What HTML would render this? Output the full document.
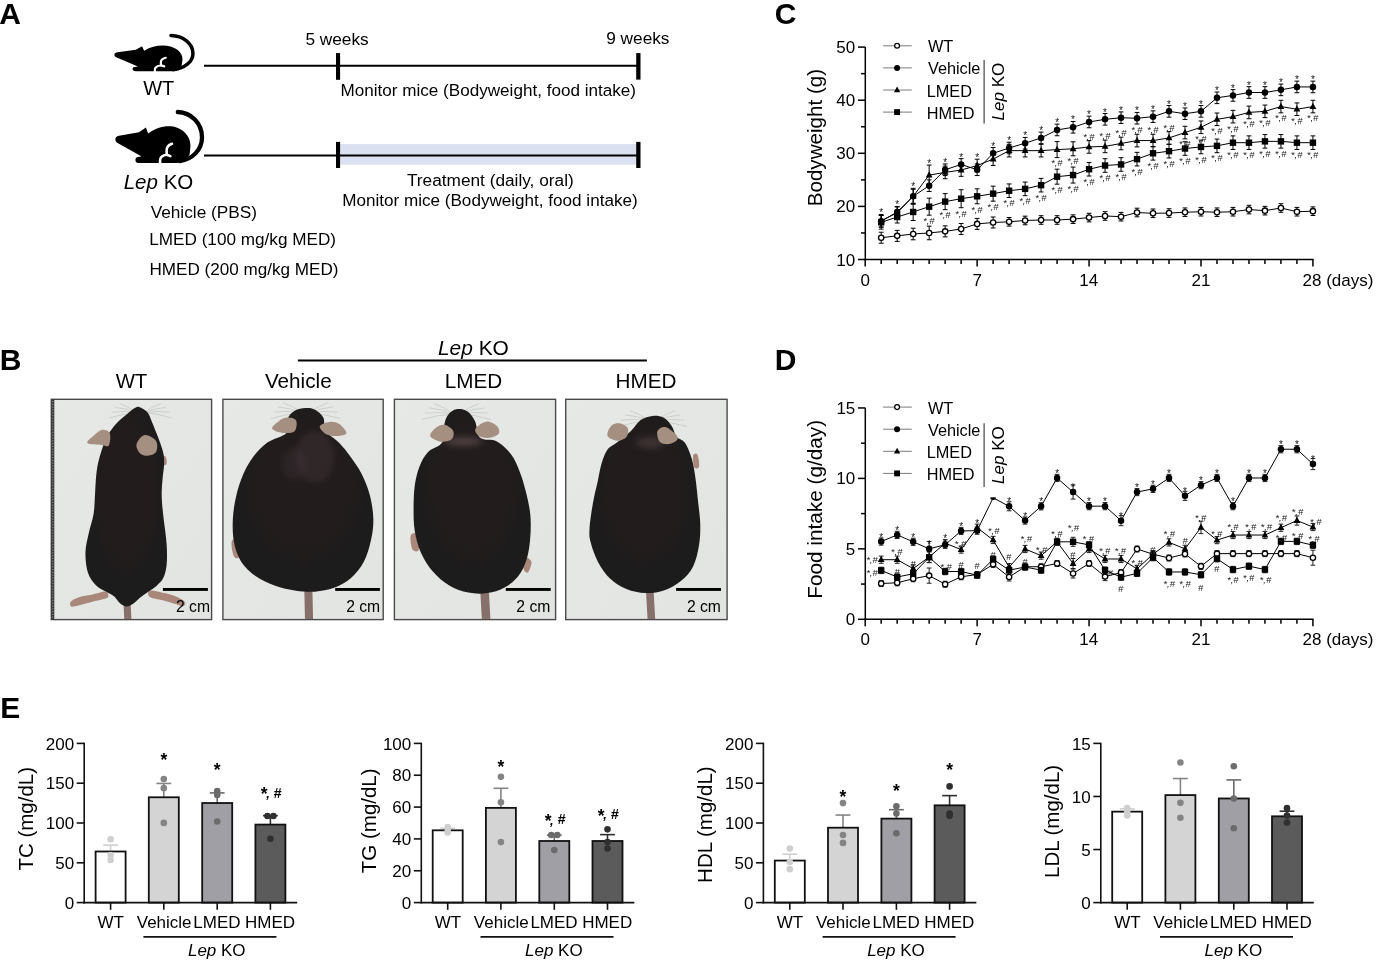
<!DOCTYPE html>
<html><head><meta charset="utf-8"><title>Figure</title>
<style>
html,body{margin:0;padding:0;background:#fff;width:1378px;height:966px;overflow:hidden}
svg{display:block;font-family:"Liberation Sans",sans-serif;-webkit-font-smoothing:antialiased;will-change:transform;transform:translateZ(0)}
</style></head><body>
<svg width="1378" height="966" viewBox="0 0 1378 966">
<rect width="1378" height="966" fill="#fff"/>
<text x="-0.72" y="23.90" style="font-size:30.00px;font-weight:bold;" fill="#000">A</text>
<text x="-0.28" y="370.40" style="font-size:30.00px;font-weight:bold;" fill="#000">B</text>
<text x="774.77" y="24.40" style="font-size:30.00px;font-weight:bold;" fill="#000">C</text>
<text x="774.72" y="370.30" style="font-size:30.00px;font-weight:bold;" fill="#000">D</text>
<text x="0.32" y="717.70" style="font-size:30.00px;font-weight:bold;" fill="#000">E</text>
<g transform="translate(114.4 34) scale(0.907 0.698) translate(-115.4 -109.7)">
<path d="M115.4 139.8 C115.2 137.2 116.6 136.2 118.9 135.7 L139 132.3 L145.9 127.4 L148.2 133.6 C155 128.6 161.5 126.3 168.8 126.3 C180.5 126.3 190.6 134.5 190.5 146 L189.6 154.5 C186 160.5 181 163.1 175 163.1 L139.2 163.1 C136.6 163.1 135.4 161.6 135.4 159.9 C135.4 157.9 137 156.7 139.5 156.7 L141.3 156.2 L118 143.3 C116.3 142.4 115.5 141.3 115.4 139.8 Z" fill="#000"/>
<path d="M177.8 112 C191 112.5 202 123 202 137.5 C202 150 192 159.5 180 161" fill="none" stroke="#000" stroke-width="3.50" stroke-linecap="round" vector-effect="non-scaling-stroke"/>
<path d="M172 143.8 C168.6 144.8 166.4 147.5 166.6 151.2 L166.8 154.7 L170.4 156.1" fill="none" stroke="#fff" stroke-width="2.20" stroke-linecap="round" stroke-linejoin="round" vector-effect="non-scaling-stroke"/>
<path d="M166.7 154.8 C162.6 155 159.6 157.6 160 161.2 L160.2 164" fill="none" stroke="#fff" stroke-width="2.20" stroke-linecap="round" stroke-linejoin="round" vector-effect="non-scaling-stroke"/>
</g>
<g transform="">
<path d="M115.4 139.8 C115.2 137.2 116.6 136.2 118.9 135.7 L139 132.3 L145.9 127.4 L148.2 133.6 C155 128.6 161.5 126.3 168.8 126.3 C180.5 126.3 190.6 134.5 190.5 146 L189.6 154.5 C186 160.5 181 163.1 175 163.1 L139.2 163.1 C136.6 163.1 135.4 161.6 135.4 159.9 C135.4 157.9 137 156.7 139.5 156.7 L141.3 156.2 L118 143.3 C116.3 142.4 115.5 141.3 115.4 139.8 Z" fill="#000"/>
<path d="M177.8 112 C191 112.5 202 123 202 137.5 C202 150 192 159.5 180 161" fill="none" stroke="#000" stroke-width="4.30" stroke-linecap="round" vector-effect="non-scaling-stroke"/>
<path d="M172 143.8 C168.6 144.8 166.4 147.5 166.6 151.2 L166.8 154.7 L170.4 156.1" fill="none" stroke="#fff" stroke-width="2.60" stroke-linecap="round" stroke-linejoin="round" vector-effect="non-scaling-stroke"/>
<path d="M166.7 154.8 C162.6 155 159.6 157.6 160 161.2 L160.2 164" fill="none" stroke="#fff" stroke-width="2.60" stroke-linecap="round" stroke-linejoin="round" vector-effect="non-scaling-stroke"/>
</g>
<text x="143.14" y="95.00" style="font-size:20.00px;" fill="#000">WT</text>
<text x="123.72" y="189.00" style="font-size:20.50px" fill="#000"><tspan style="font-style:italic">Lep</tspan><tspan> KO</tspan></text>
<line x1="204.00" y1="65.80" x2="638.30" y2="65.80" stroke="#000" stroke-width="2.00"/>
<rect x="336.00" y="53.10" width="4.10" height="26.70" fill="#000" stroke="none" stroke-width="0.00"/>
<rect x="636.20" y="53.10" width="4.30" height="26.50" fill="#000" stroke="none" stroke-width="0.00"/>
<text x="305.41" y="44.50" style="font-size:17.25px;" fill="#000">5 weeks</text>
<text x="606.21" y="44.20" style="font-size:17.25px;" fill="#000">9 weeks</text>
<text x="340.50" y="95.80" style="font-size:17.10px;" fill="#000">Monitor mice (Bodyweight, food intake)</text>
<rect x="340.10" y="144.10" width="296.10" height="20.70" fill="#dbe1f0" stroke="none" stroke-width="0.00"/>
<line x1="204.00" y1="155.40" x2="638.30" y2="155.40" stroke="#000" stroke-width="2.00"/>
<rect x="336.00" y="141.90" width="4.10" height="26.10" fill="#000" stroke="none" stroke-width="0.00"/>
<rect x="636.20" y="141.90" width="4.30" height="26.10" fill="#000" stroke="none" stroke-width="0.00"/>
<text x="406.92" y="185.60" style="font-size:17.25px;" fill="#000">Treatment (daily, oral)</text>
<text x="342.20" y="206.10" style="font-size:17.10px;" fill="#000">Monitor mice (Bodyweight, food intake)</text>
<text x="150.63" y="217.90" style="font-size:17.25px;" fill="#000">Vehicle (PBS)</text>
<text x="149.29" y="245.30" style="font-size:17.15px;" fill="#000">LMED (100 mg/kg MED)</text>
<text x="149.50" y="275.00" style="font-size:17.10px;" fill="#000">HMED (200 mg/kg MED)</text>
<defs><linearGradient id="bg" x1="0" y1="0" x2="1" y2="1"><stop offset="0" stop-color="#e7e9e6"/><stop offset="1" stop-color="#e2e4e1"/></linearGradient><radialGradient id="fur" cx="0.5" cy="0.42" r="0.62"><stop offset="0" stop-color="#221d1d"/><stop offset="1" stop-color="#1e1a1a"/></radialGradient><filter id="soft" x="-10%" y="-10%" width="120%" height="120%"><feGaussianBlur stdDeviation="2.6"/></filter><filter id="soft2" x="-50%" y="-50%" width="200%" height="200%"><feGaussianBlur stdDeviation="14"/></filter></defs>
<rect x="51.30" y="399.30" width="160.30" height="220.30" fill="url(#bg)" stroke="#4a4a4a" stroke-width="1.40"/>
<rect x="222.90" y="399.30" width="160.30" height="220.30" fill="url(#bg)" stroke="#4a4a4a" stroke-width="1.40"/>
<rect x="394.40" y="399.30" width="161.20" height="220.30" fill="url(#bg)" stroke="#4a4a4a" stroke-width="1.40"/>
<rect x="565.70" y="399.30" width="161.40" height="220.30" fill="url(#bg)" stroke="#4a4a4a" stroke-width="1.40"/>
<g stroke="#8a8a8a" stroke-width="0.45" opacity="0.6" fill="none">
<path d="M137.5 413.0 Q128.7 406.3 119.8 403.6"/>
<path d="M137.5 413.0 Q126.3 408.2 115.2 407.4"/>
<path d="M137.5 413.0 Q124.5 410.5 111.5 412.1"/>
<path d="M137.5 413.0 Q123.2 413.5 108.9 418.0"/>
<path d="M143.5 413.0 Q152.3 406.3 161.2 403.6"/>
<path d="M143.5 413.0 Q154.7 408.2 165.8 407.4"/>
<path d="M143.5 413.0 Q156.5 410.5 169.5 412.1"/>
<path d="M143.5 413.0 Q157.8 413.5 172.1 418.0"/>
</g>
<g stroke="#8a8a8a" stroke-width="0.45" opacity="0.6" fill="none">
<path d="M302.5 413.0 Q292.8 405.8 283.1 402.7"/>
<path d="M302.5 413.0 Q290.2 407.9 278.0 406.9"/>
<path d="M302.5 413.0 Q288.2 410.5 273.9 412.0"/>
<path d="M302.5 413.0 Q286.8 413.8 271.1 418.5"/>
<path d="M308.5 413.0 Q318.2 405.8 327.9 402.7"/>
<path d="M308.5 413.0 Q320.8 407.9 333.0 406.9"/>
<path d="M308.5 413.0 Q322.8 410.5 337.1 412.0"/>
<path d="M308.5 413.0 Q324.2 413.8 339.9 418.5"/>
</g>
<g stroke="#8a8a8a" stroke-width="0.45" opacity="0.6" fill="none">
<path d="M453.5 414.0 Q443.8 406.8 434.1 403.7"/>
<path d="M453.5 414.0 Q441.2 408.9 429.0 407.9"/>
<path d="M453.5 414.0 Q439.2 411.5 424.9 413.0"/>
<path d="M453.5 414.0 Q437.8 414.8 422.1 419.5"/>
<path d="M459.5 414.0 Q469.2 406.8 478.9 403.7"/>
<path d="M459.5 414.0 Q471.8 408.9 484.0 407.9"/>
<path d="M459.5 414.0 Q473.8 411.5 488.1 413.0"/>
<path d="M459.5 414.0 Q475.2 414.8 490.9 419.5"/>
</g>
<g stroke="#8a8a8a" stroke-width="0.45" opacity="0.6" fill="none">
<path d="M649.5 421.0 Q639.8 413.8 630.1 410.7"/>
<path d="M649.5 421.0 Q637.2 415.9 625.0 414.9"/>
<path d="M649.5 421.0 Q635.2 418.5 620.9 420.0"/>
<path d="M649.5 421.0 Q633.8 421.8 618.1 426.5"/>
<path d="M655.5 421.0 Q665.2 413.8 674.9 410.7"/>
<path d="M655.5 421.0 Q667.8 415.9 680.0 414.9"/>
<path d="M655.5 421.0 Q669.8 418.5 684.1 420.0"/>
<path d="M655.5 421.0 Q671.2 421.8 686.9 426.5"/>
</g>
<clipPath id="cp1"><rect x="52.00" y="400.00" width="158.90" height="218.90"/></clipPath>
<g clip-path="url(#cp1)">
<g transform="translate(45.00 395.00) scale(0.23810)">
<path d="M255.0 826.0 C244.7 823.7 219.2 834.0 200.0 838.0 C180.8 842.0 155.3 845.0 140.0 850.0 C124.7 855.0 113.0 861.7 108.0 868.0 C103.0 874.3 104.7 885.3 110.0 888.0 C115.3 890.7 125.0 887.3 140.0 884.0 C155.0 880.7 179.7 873.3 200.0 868.0 C220.3 862.7 252.8 859.0 262.0 852.0 C271.2 845.0 265.3 828.3 255.0 826.0 Z" fill="#a9877a"/>
<path d="M440.0 822.0 C450.0 819.3 480.8 827.7 500.0 832.0 C519.2 836.3 540.3 841.7 555.0 848.0 C569.7 854.3 584.2 863.3 588.0 870.0 C591.8 876.7 584.7 886.7 578.0 888.0 C571.3 889.3 561.8 882.3 548.0 878.0 C534.2 873.7 513.0 867.0 495.0 862.0 C477.0 857.0 449.2 854.7 440.0 848.0 C430.8 841.3 430.0 824.7 440.0 822.0 Z" fill="#a9877a"/>
<path d="M345 880 L348 945" fill="none" stroke="#85706b" stroke-width="30.0" stroke-linecap="round"/>
<path d="M492.0 255.0 C494.3 250.0 505.0 256.2 508.0 262.0 C511.0 267.8 512.3 285.0 510.0 290.0 C507.7 295.0 497.0 297.8 494.0 292.0 C491.0 286.2 489.7 260.0 492.0 255.0 Z" fill="#a9877a"/>
<path d="M395.0 50.0 C404.7 52.3 421.2 62.0 430.0 72.0 C438.8 82.0 441.7 95.3 448.0 110.0 C454.3 124.7 461.8 144.2 468.0 160.0 C474.2 175.8 480.0 190.0 485.0 205.0 C490.0 220.0 495.5 235.0 498.0 250.0 C500.5 265.0 500.7 278.3 500.0 295.0 C499.3 311.7 495.7 329.2 494.0 350.0 C492.3 370.8 489.7 395.0 490.0 420.0 C490.3 445.0 493.3 473.3 496.0 500.0 C498.7 526.7 503.3 555.0 506.0 580.0 C508.7 605.0 511.3 626.7 512.0 650.0 C512.7 673.3 512.7 700.0 510.0 720.0 C507.3 740.0 502.7 756.7 496.0 770.0 C489.3 783.3 479.3 791.3 470.0 800.0 C460.7 808.7 451.7 813.7 440.0 822.0 C428.3 830.3 412.5 840.3 400.0 850.0 C387.5 859.7 375.0 873.7 365.0 880.0 C355.0 886.3 348.3 888.8 340.0 888.0 C331.7 887.2 323.3 882.2 315.0 875.0 C306.7 867.8 300.0 853.3 290.0 845.0 C280.0 836.7 267.5 832.5 255.0 825.0 C242.5 817.5 227.5 813.3 215.0 800.0 C202.5 786.7 187.5 768.3 180.0 745.0 C172.5 721.7 169.3 687.5 170.0 660.0 C170.7 632.5 178.3 606.7 184.0 580.0 C189.7 553.3 199.7 526.7 204.0 500.0 C208.3 473.3 208.3 445.0 210.0 420.0 C211.7 395.0 212.0 371.7 214.0 350.0 C216.0 328.3 218.0 309.7 222.0 290.0 C226.0 270.3 231.3 251.7 238.0 232.0 C244.7 212.3 251.7 190.7 262.0 172.0 C272.3 153.3 286.2 135.3 300.0 120.0 C313.8 104.7 333.0 90.3 345.0 80.0 C357.0 69.7 363.7 63.0 372.0 58.0 C380.3 53.0 385.3 47.7 395.0 50.0 Z" fill="url(#fur)" filter="url(#soft)"/>
<path d="M178.0 202.0 C172.5 195.3 194.7 179.3 205.0 170.0 C215.3 160.7 228.8 147.7 240.0 146.0 C251.2 144.3 267.3 149.0 272.0 160.0 C276.7 171.0 273.7 203.7 268.0 212.0 C262.3 220.3 253.0 211.7 238.0 210.0 C223.0 208.3 183.5 208.7 178.0 202.0 Z" fill="#a58f80"/>
<path d="M385.0 205.0 C388.8 193.0 404.5 170.2 418.0 168.0 C431.5 165.8 458.0 180.0 466.0 192.0 C474.0 204.0 472.8 229.5 466.0 240.0 C459.2 250.5 436.8 255.0 425.0 255.0 C413.2 255.0 401.7 248.3 395.0 240.0 C388.3 231.7 381.2 217.0 385.0 205.0 Z" fill="#a58f80"/>
</g></g>
<clipPath id="cp2"><rect x="223.60" y="400.00" width="158.90" height="218.90"/></clipPath>
<g clip-path="url(#cp2)">
<g transform="translate(215.00 395.00) scale(0.23810)">
<path d="M392 815 L395 945" fill="none" stroke="#85706b" stroke-width="34.0" stroke-linecap="round"/>
<path d="M70.0 615.0 C72.8 604.2 90.0 599.2 95.0 610.0 C100.0 620.8 102.8 669.2 100.0 680.0 C97.2 690.8 83.0 685.8 78.0 675.0 C73.0 664.2 67.2 625.8 70.0 615.0 Z" fill="#a9877a"/>
<path d="M380.0 55.0 C394.2 54.3 407.5 55.3 420.0 62.0 C432.5 68.7 447.5 80.3 455.0 95.0 C462.5 109.7 454.2 132.5 465.0 150.0 C475.8 167.5 502.5 181.7 520.0 200.0 C537.5 218.3 554.2 238.3 570.0 260.0 C585.8 281.7 601.7 303.3 615.0 330.0 C628.3 356.7 641.7 388.3 650.0 420.0 C658.3 451.7 664.2 488.3 665.0 520.0 C665.8 551.7 661.7 580.0 655.0 610.0 C648.3 640.0 639.2 673.3 625.0 700.0 C610.8 726.7 590.8 751.7 570.0 770.0 C549.2 788.3 525.0 800.7 500.0 810.0 C475.0 819.3 446.7 824.0 420.0 826.0 C393.3 828.0 368.3 826.3 340.0 822.0 C311.7 817.7 278.3 810.3 250.0 800.0 C221.7 789.7 193.3 776.7 170.0 760.0 C146.7 743.3 125.0 723.3 110.0 700.0 C95.0 676.7 85.8 650.0 80.0 620.0 C74.2 590.0 73.3 553.3 75.0 520.0 C76.7 486.7 82.5 451.7 90.0 420.0 C97.5 388.3 108.3 356.7 120.0 330.0 C131.7 303.3 143.3 281.7 160.0 260.0 C176.7 238.3 196.7 216.7 220.0 200.0 C243.3 183.3 285.8 176.7 300.0 160.0 C314.2 143.3 299.2 115.7 305.0 100.0 C310.8 84.3 322.5 73.5 335.0 66.0 C347.5 58.5 365.8 55.7 380.0 55.0 Z" fill="url(#fur)" filter="url(#soft)"/>
<ellipse cx="420.0" cy="260.0" rx="80.0" ry="110.0" fill="#6a5560" opacity="0.20" filter="url(#soft2)"/>
<ellipse cx="330.0" cy="290.0" rx="50.0" ry="70.0" fill="#5a4a52" opacity="0.18" filter="url(#soft2)"/>
<path d="M240.0 137.0 C242.2 130.0 258.0 117.0 268.0 110.0 C278.0 103.0 288.0 95.7 300.0 95.0 C312.0 94.3 334.0 96.8 340.0 106.0 C346.0 115.2 342.7 141.0 336.0 150.0 C329.3 159.0 313.5 159.7 300.0 160.0 C286.5 160.3 265.0 155.8 255.0 152.0 C245.0 148.2 237.8 144.0 240.0 137.0 Z" fill="#a58f80"/>
<path d="M440.0 132.0 C441.7 123.2 466.3 114.7 480.0 113.0 C493.7 111.3 510.0 114.2 522.0 122.0 C534.0 129.8 552.3 151.7 552.0 160.0 C551.7 168.3 533.7 171.0 520.0 172.0 C506.3 173.0 483.3 172.7 470.0 166.0 C456.7 159.3 438.3 140.8 440.0 132.0 Z" fill="#a58f80"/>
</g></g>
<clipPath id="cp3"><rect x="395.10" y="400.00" width="159.80" height="218.90"/></clipPath>
<g clip-path="url(#cp3)">
<g transform="translate(385.00 395.00) scale(0.23810)">
<path d="M418 820 L425 945" fill="none" stroke="#85706b" stroke-width="36.0" stroke-linecap="round"/>
<path d="M108.0 590.0 C111.3 579.5 129.3 575.0 135.0 585.0 C140.7 595.0 145.3 639.5 142.0 650.0 C138.7 660.5 120.7 658.0 115.0 648.0 C109.3 638.0 104.7 600.5 108.0 590.0 Z" fill="#a9877a"/>
<path d="M585.0 680.0 C590.5 675.0 612.5 689.2 615.0 700.0 C617.5 710.8 605.5 740.0 600.0 745.0 C594.5 750.0 584.5 740.8 582.0 730.0 C579.5 719.2 579.5 685.0 585.0 680.0 Z" fill="#a9877a"/>
<path d="M300.0 60.0 C312.8 58.0 332.0 59.7 345.0 68.0 C358.0 76.3 368.8 91.3 378.0 110.0 C387.2 128.7 384.7 165.8 400.0 180.0 C415.3 194.2 448.3 183.3 470.0 195.0 C491.7 206.7 514.2 229.2 530.0 250.0 C545.8 270.8 555.0 295.0 565.0 320.0 C575.0 345.0 582.5 370.0 590.0 400.0 C597.5 430.0 606.7 466.7 610.0 500.0 C613.3 533.3 612.5 568.3 610.0 600.0 C607.5 631.7 603.3 663.3 595.0 690.0 C586.7 716.7 575.8 740.0 560.0 760.0 C544.2 780.0 521.7 798.0 500.0 810.0 C478.3 822.0 455.0 828.7 430.0 832.0 C405.0 835.3 376.7 835.3 350.0 830.0 C323.3 824.7 295.0 815.0 270.0 800.0 C245.0 785.0 220.0 763.3 200.0 740.0 C180.0 716.7 162.5 688.3 150.0 660.0 C137.5 631.7 130.0 600.0 125.0 570.0 C120.0 540.0 120.0 511.7 120.0 480.0 C120.0 448.3 120.8 410.0 125.0 380.0 C129.2 350.0 135.8 323.3 145.0 300.0 C154.2 276.7 164.2 256.7 180.0 240.0 C195.8 223.3 228.3 220.0 240.0 200.0 C251.7 180.0 245.3 140.0 250.0 120.0 C254.7 100.0 259.7 90.0 268.0 80.0 C276.3 70.0 287.2 62.0 300.0 60.0 Z" fill="url(#fur)" filter="url(#soft)"/>
<ellipse cx="330.0" cy="195.0" rx="80.0" ry="18.0" fill="#8a7070" opacity="0.45" filter="url(#soft2)"/>
<path d="M190.0 172.0 C186.7 162.0 205.0 143.8 215.0 136.0 C225.0 128.2 238.2 122.7 250.0 125.0 C261.8 127.3 281.0 139.8 286.0 150.0 C291.0 160.2 288.5 178.3 280.0 186.0 C271.5 193.7 250.0 198.3 235.0 196.0 C220.0 193.7 193.3 182.0 190.0 172.0 Z" fill="#a58f80"/>
<path d="M380.0 142.0 C385.0 132.0 410.0 114.0 425.0 112.0 C440.0 110.0 461.2 121.7 470.0 130.0 C478.8 138.3 483.0 153.7 478.0 162.0 C473.0 170.3 453.8 178.3 440.0 180.0 C426.2 181.7 405.0 178.3 395.0 172.0 C385.0 165.7 375.0 152.0 380.0 142.0 Z" fill="#a58f80"/>
</g></g>
<clipPath id="cp4"><rect x="566.40" y="400.00" width="160.00" height="218.90"/></clipPath>
<g clip-path="url(#cp4)">
<g transform="translate(555.00 395.00) scale(0.23810)">
<path d="M398 820 L405 945" fill="none" stroke="#85706b" stroke-width="32.0" stroke-linecap="round"/>
<path d="M580.0 255.0 C582.2 245.8 593.8 242.5 598.0 250.0 C602.2 257.5 607.2 290.8 605.0 300.0 C602.8 309.2 589.2 312.5 585.0 305.0 C580.8 297.5 577.8 264.2 580.0 255.0 Z" fill="#a9877a"/>
<path d="M410.0 88.0 C425.8 86.3 441.7 88.0 455.0 95.0 C468.3 102.0 480.8 116.7 490.0 130.0 C499.2 143.3 500.8 163.3 510.0 175.0 C519.2 186.7 534.2 184.2 545.0 200.0 C555.8 215.8 567.5 245.0 575.0 270.0 C582.5 295.0 585.8 321.7 590.0 350.0 C594.2 378.3 596.7 408.3 600.0 440.0 C603.3 471.7 609.2 508.3 610.0 540.0 C610.8 571.7 610.0 600.0 605.0 630.0 C600.0 660.0 592.5 695.0 580.0 720.0 C567.5 745.0 550.0 763.3 530.0 780.0 C510.0 796.7 485.0 811.3 460.0 820.0 C435.0 828.7 406.7 832.8 380.0 832.0 C353.3 831.2 325.0 825.3 300.0 815.0 C275.0 804.7 250.0 789.2 230.0 770.0 C210.0 750.8 193.3 725.0 180.0 700.0 C166.7 675.0 155.8 643.3 150.0 620.0 C144.2 596.7 143.3 588.3 145.0 560.0 C146.7 531.7 154.2 483.3 160.0 450.0 C165.8 416.7 174.2 386.7 180.0 360.0 C185.8 333.3 188.3 311.7 195.0 290.0 C201.7 268.3 209.2 245.0 220.0 230.0 C230.8 215.0 243.3 213.3 260.0 200.0 C276.7 186.7 303.3 165.8 320.0 150.0 C336.7 134.2 345.0 115.3 360.0 105.0 C375.0 94.7 394.2 89.7 410.0 88.0 Z" fill="url(#fur)" filter="url(#soft)"/>
<ellipse cx="400.0" cy="200.0" rx="60.0" ry="25.0" fill="#5a4848" opacity="0.50" filter="url(#soft2)"/>
<path d="M220.0 162.0 C221.7 152.7 230.8 133.0 240.0 126.0 C249.2 119.0 264.0 117.7 275.0 120.0 C286.0 122.3 301.8 130.7 306.0 140.0 C310.2 149.3 306.8 167.3 300.0 176.0 C293.2 184.7 276.7 191.0 265.0 192.0 C253.3 193.0 237.5 187.0 230.0 182.0 C222.5 177.0 218.3 171.3 220.0 162.0 Z" fill="#a58f80"/>
<path d="M430.0 152.0 C433.7 141.7 450.0 132.7 462.0 134.0 C474.0 135.3 493.2 151.3 502.0 160.0 C510.8 168.7 518.7 178.3 515.0 186.0 C511.3 193.7 492.5 204.3 480.0 206.0 C467.5 207.7 448.3 205.0 440.0 196.0 C431.7 187.0 426.3 162.3 430.0 152.0 Z" fill="#a58f80"/>
</g></g>
<rect x="51.30" y="399.30" width="3.00" height="220.30" fill="#3a3a3a" stroke="none" stroke-width="0.00"/>
<line x1="52.8" y1="401" x2="52.8" y2="618" stroke="#9a9a9a" stroke-width="1" stroke-dasharray="1.2 1.6"/>
<rect x="162.90" y="588.00" width="45.00" height="2.90" fill="#000" stroke="none" stroke-width="0.00"/>
<text x="176.00" y="611.90" style="font-size:15.70px;" fill="#000">2 cm</text>
<rect x="335.20" y="588.00" width="44.70" height="2.90" fill="#000" stroke="none" stroke-width="0.00"/>
<text x="346.20" y="611.90" style="font-size:15.70px;" fill="#000">2 cm</text>
<rect x="505.80" y="588.00" width="44.90" height="2.90" fill="#000" stroke="none" stroke-width="0.00"/>
<text x="516.30" y="611.90" style="font-size:15.70px;" fill="#000">2 cm</text>
<rect x="676.10" y="588.00" width="44.90" height="2.90" fill="#000" stroke="none" stroke-width="0.00"/>
<text x="686.90" y="611.90" style="font-size:15.70px;" fill="#000">2 cm</text>
<text x="115.63" y="388.00" style="font-size:20.40px;" fill="#000">WT</text>
<text x="264.95" y="388.40" style="font-size:20.70px;" fill="#000">Vehicle</text>
<text x="444.79" y="388.40" style="font-size:20.70px;" fill="#000">LMED</text>
<text x="615.57" y="388.40" style="font-size:20.70px;" fill="#000">HMED</text>
<line x1="297.90" y1="360.50" x2="646.90" y2="360.50" stroke="#000" stroke-width="2.00"/>
<text x="437.97" y="355.40" style="font-size:20.90px" fill="#000"><tspan style="font-style:italic">Lep</tspan><tspan> KO</tspan></text>
<line x1="865.30" y1="47.10" x2="865.30" y2="260.20" stroke="#000" stroke-width="1.50"/>
<line x1="864.60" y1="259.50" x2="1313.62" y2="259.50" stroke="#000" stroke-width="1.50"/>
<line x1="858.00" y1="259.50" x2="865.30" y2="259.50" stroke="#000" stroke-width="1.50"/>
<line x1="858.00" y1="206.40" x2="865.30" y2="206.40" stroke="#000" stroke-width="1.50"/>
<line x1="858.00" y1="153.30" x2="865.30" y2="153.30" stroke="#000" stroke-width="1.50"/>
<line x1="858.00" y1="100.20" x2="865.30" y2="100.20" stroke="#000" stroke-width="1.50"/>
<line x1="858.00" y1="47.10" x2="865.30" y2="47.10" stroke="#000" stroke-width="1.50"/>
<line x1="861.00" y1="232.95" x2="865.30" y2="232.95" stroke="#000" stroke-width="1.50"/>
<line x1="861.00" y1="179.85" x2="865.30" y2="179.85" stroke="#000" stroke-width="1.50"/>
<line x1="861.00" y1="126.75" x2="865.30" y2="126.75" stroke="#000" stroke-width="1.50"/>
<line x1="861.00" y1="73.65" x2="865.30" y2="73.65" stroke="#000" stroke-width="1.50"/>
<line x1="865.20" y1="259.50" x2="865.20" y2="266.50" stroke="#000" stroke-width="1.50"/>
<line x1="881.19" y1="259.50" x2="881.19" y2="263.90" stroke="#000" stroke-width="1.50"/>
<line x1="897.18" y1="259.50" x2="897.18" y2="263.90" stroke="#000" stroke-width="1.50"/>
<line x1="913.17" y1="259.50" x2="913.17" y2="263.90" stroke="#000" stroke-width="1.50"/>
<line x1="929.16" y1="259.50" x2="929.16" y2="263.90" stroke="#000" stroke-width="1.50"/>
<line x1="945.15" y1="259.50" x2="945.15" y2="263.90" stroke="#000" stroke-width="1.50"/>
<line x1="961.14" y1="259.50" x2="961.14" y2="263.90" stroke="#000" stroke-width="1.50"/>
<line x1="977.13" y1="259.50" x2="977.13" y2="266.50" stroke="#000" stroke-width="1.50"/>
<line x1="993.12" y1="259.50" x2="993.12" y2="263.90" stroke="#000" stroke-width="1.50"/>
<line x1="1009.11" y1="259.50" x2="1009.11" y2="263.90" stroke="#000" stroke-width="1.50"/>
<line x1="1025.10" y1="259.50" x2="1025.10" y2="263.90" stroke="#000" stroke-width="1.50"/>
<line x1="1041.09" y1="259.50" x2="1041.09" y2="263.90" stroke="#000" stroke-width="1.50"/>
<line x1="1057.08" y1="259.50" x2="1057.08" y2="263.90" stroke="#000" stroke-width="1.50"/>
<line x1="1073.07" y1="259.50" x2="1073.07" y2="263.90" stroke="#000" stroke-width="1.50"/>
<line x1="1089.06" y1="259.50" x2="1089.06" y2="266.50" stroke="#000" stroke-width="1.50"/>
<line x1="1105.05" y1="259.50" x2="1105.05" y2="263.90" stroke="#000" stroke-width="1.50"/>
<line x1="1121.04" y1="259.50" x2="1121.04" y2="263.90" stroke="#000" stroke-width="1.50"/>
<line x1="1137.03" y1="259.50" x2="1137.03" y2="263.90" stroke="#000" stroke-width="1.50"/>
<line x1="1153.02" y1="259.50" x2="1153.02" y2="263.90" stroke="#000" stroke-width="1.50"/>
<line x1="1169.01" y1="259.50" x2="1169.01" y2="263.90" stroke="#000" stroke-width="1.50"/>
<line x1="1185.00" y1="259.50" x2="1185.00" y2="263.90" stroke="#000" stroke-width="1.50"/>
<line x1="1200.99" y1="259.50" x2="1200.99" y2="266.50" stroke="#000" stroke-width="1.50"/>
<line x1="1216.98" y1="259.50" x2="1216.98" y2="263.90" stroke="#000" stroke-width="1.50"/>
<line x1="1232.97" y1="259.50" x2="1232.97" y2="263.90" stroke="#000" stroke-width="1.50"/>
<line x1="1248.96" y1="259.50" x2="1248.96" y2="263.90" stroke="#000" stroke-width="1.50"/>
<line x1="1264.95" y1="259.50" x2="1264.95" y2="263.90" stroke="#000" stroke-width="1.50"/>
<line x1="1280.94" y1="259.50" x2="1280.94" y2="263.90" stroke="#000" stroke-width="1.50"/>
<line x1="1296.93" y1="259.50" x2="1296.93" y2="263.90" stroke="#000" stroke-width="1.50"/>
<line x1="1312.92" y1="259.50" x2="1312.92" y2="266.50" stroke="#000" stroke-width="1.50"/>
<text x="836.34" y="265.50" style="font-size:17.00px;" fill="#000">10</text>
<text x="836.34" y="212.40" style="font-size:17.00px;" fill="#000">20</text>
<text x="836.34" y="159.30" style="font-size:17.00px;" fill="#000">30</text>
<text x="836.34" y="106.20" style="font-size:17.00px;" fill="#000">40</text>
<text x="836.34" y="53.10" style="font-size:17.00px;" fill="#000">50</text>
<polyline points="881.19,237.73 897.18,235.87 913.17,234.01 929.16,232.95 945.15,231.36 961.14,228.97 977.13,223.92 993.12,222.49 1009.11,221.80 1025.10,220.47 1041.09,219.99 1057.08,219.99 1073.07,219.14 1089.06,217.55 1105.05,215.96 1121.04,216.70 1137.03,212.51 1153.02,213.30 1169.01,213.04 1185.00,212.24 1200.99,211.71 1216.98,212.24 1232.97,211.71 1248.96,209.59 1264.95,210.65 1280.94,207.99 1296.93,211.71 1312.92,211.18" fill="none" stroke="#000" stroke-width="1.00"/>
<line x1="881.19" y1="232.23" x2="881.19" y2="243.23" stroke="#000" stroke-width="1.00"/>
<line x1="878.79" y1="232.23" x2="883.59" y2="232.23" stroke="#000" stroke-width="1.00"/>
<line x1="878.79" y1="243.23" x2="883.59" y2="243.23" stroke="#000" stroke-width="1.00"/>
<line x1="897.18" y1="230.37" x2="897.18" y2="241.37" stroke="#000" stroke-width="1.00"/>
<line x1="894.78" y1="230.37" x2="899.58" y2="230.37" stroke="#000" stroke-width="1.00"/>
<line x1="894.78" y1="241.37" x2="899.58" y2="241.37" stroke="#000" stroke-width="1.00"/>
<line x1="913.17" y1="228.21" x2="913.17" y2="239.81" stroke="#000" stroke-width="1.00"/>
<line x1="910.77" y1="228.21" x2="915.57" y2="228.21" stroke="#000" stroke-width="1.00"/>
<line x1="910.77" y1="239.81" x2="915.57" y2="239.81" stroke="#000" stroke-width="1.00"/>
<line x1="929.16" y1="226.15" x2="929.16" y2="239.75" stroke="#000" stroke-width="1.00"/>
<line x1="926.76" y1="226.15" x2="931.56" y2="226.15" stroke="#000" stroke-width="1.00"/>
<line x1="926.76" y1="239.75" x2="931.56" y2="239.75" stroke="#000" stroke-width="1.00"/>
<line x1="945.15" y1="225.86" x2="945.15" y2="236.86" stroke="#000" stroke-width="1.00"/>
<line x1="942.75" y1="225.86" x2="947.55" y2="225.86" stroke="#000" stroke-width="1.00"/>
<line x1="942.75" y1="236.86" x2="947.55" y2="236.86" stroke="#000" stroke-width="1.00"/>
<line x1="961.14" y1="223.47" x2="961.14" y2="234.47" stroke="#000" stroke-width="1.00"/>
<line x1="958.74" y1="223.47" x2="963.54" y2="223.47" stroke="#000" stroke-width="1.00"/>
<line x1="958.74" y1="234.47" x2="963.54" y2="234.47" stroke="#000" stroke-width="1.00"/>
<line x1="977.13" y1="218.42" x2="977.13" y2="229.42" stroke="#000" stroke-width="1.00"/>
<line x1="974.73" y1="218.42" x2="979.53" y2="218.42" stroke="#000" stroke-width="1.00"/>
<line x1="974.73" y1="229.42" x2="979.53" y2="229.42" stroke="#000" stroke-width="1.00"/>
<line x1="993.12" y1="216.99" x2="993.12" y2="227.99" stroke="#000" stroke-width="1.00"/>
<line x1="990.72" y1="216.99" x2="995.52" y2="216.99" stroke="#000" stroke-width="1.00"/>
<line x1="990.72" y1="227.99" x2="995.52" y2="227.99" stroke="#000" stroke-width="1.00"/>
<line x1="1009.11" y1="217.50" x2="1009.11" y2="226.10" stroke="#000" stroke-width="1.00"/>
<line x1="1006.71" y1="217.50" x2="1011.51" y2="217.50" stroke="#000" stroke-width="1.00"/>
<line x1="1006.71" y1="226.10" x2="1011.51" y2="226.10" stroke="#000" stroke-width="1.00"/>
<line x1="1025.10" y1="216.17" x2="1025.10" y2="224.77" stroke="#000" stroke-width="1.00"/>
<line x1="1022.70" y1="216.17" x2="1027.50" y2="216.17" stroke="#000" stroke-width="1.00"/>
<line x1="1022.70" y1="224.77" x2="1027.50" y2="224.77" stroke="#000" stroke-width="1.00"/>
<line x1="1041.09" y1="215.69" x2="1041.09" y2="224.29" stroke="#000" stroke-width="1.00"/>
<line x1="1038.69" y1="215.69" x2="1043.49" y2="215.69" stroke="#000" stroke-width="1.00"/>
<line x1="1038.69" y1="224.29" x2="1043.49" y2="224.29" stroke="#000" stroke-width="1.00"/>
<line x1="1057.08" y1="215.69" x2="1057.08" y2="224.29" stroke="#000" stroke-width="1.00"/>
<line x1="1054.68" y1="215.69" x2="1059.48" y2="215.69" stroke="#000" stroke-width="1.00"/>
<line x1="1054.68" y1="224.29" x2="1059.48" y2="224.29" stroke="#000" stroke-width="1.00"/>
<line x1="1073.07" y1="214.84" x2="1073.07" y2="223.44" stroke="#000" stroke-width="1.00"/>
<line x1="1070.67" y1="214.84" x2="1075.47" y2="214.84" stroke="#000" stroke-width="1.00"/>
<line x1="1070.67" y1="223.44" x2="1075.47" y2="223.44" stroke="#000" stroke-width="1.00"/>
<line x1="1089.06" y1="213.25" x2="1089.06" y2="221.85" stroke="#000" stroke-width="1.00"/>
<line x1="1086.66" y1="213.25" x2="1091.46" y2="213.25" stroke="#000" stroke-width="1.00"/>
<line x1="1086.66" y1="221.85" x2="1091.46" y2="221.85" stroke="#000" stroke-width="1.00"/>
<line x1="1105.05" y1="211.66" x2="1105.05" y2="220.26" stroke="#000" stroke-width="1.00"/>
<line x1="1102.65" y1="211.66" x2="1107.45" y2="211.66" stroke="#000" stroke-width="1.00"/>
<line x1="1102.65" y1="220.26" x2="1107.45" y2="220.26" stroke="#000" stroke-width="1.00"/>
<line x1="1121.04" y1="212.40" x2="1121.04" y2="221.00" stroke="#000" stroke-width="1.00"/>
<line x1="1118.64" y1="212.40" x2="1123.44" y2="212.40" stroke="#000" stroke-width="1.00"/>
<line x1="1118.64" y1="221.00" x2="1123.44" y2="221.00" stroke="#000" stroke-width="1.00"/>
<line x1="1137.03" y1="208.21" x2="1137.03" y2="216.81" stroke="#000" stroke-width="1.00"/>
<line x1="1134.63" y1="208.21" x2="1139.43" y2="208.21" stroke="#000" stroke-width="1.00"/>
<line x1="1134.63" y1="216.81" x2="1139.43" y2="216.81" stroke="#000" stroke-width="1.00"/>
<line x1="1153.02" y1="209.00" x2="1153.02" y2="217.60" stroke="#000" stroke-width="1.00"/>
<line x1="1150.62" y1="209.00" x2="1155.42" y2="209.00" stroke="#000" stroke-width="1.00"/>
<line x1="1150.62" y1="217.60" x2="1155.42" y2="217.60" stroke="#000" stroke-width="1.00"/>
<line x1="1169.01" y1="208.74" x2="1169.01" y2="217.34" stroke="#000" stroke-width="1.00"/>
<line x1="1166.61" y1="208.74" x2="1171.41" y2="208.74" stroke="#000" stroke-width="1.00"/>
<line x1="1166.61" y1="217.34" x2="1171.41" y2="217.34" stroke="#000" stroke-width="1.00"/>
<line x1="1185.00" y1="207.94" x2="1185.00" y2="216.54" stroke="#000" stroke-width="1.00"/>
<line x1="1182.60" y1="207.94" x2="1187.40" y2="207.94" stroke="#000" stroke-width="1.00"/>
<line x1="1182.60" y1="216.54" x2="1187.40" y2="216.54" stroke="#000" stroke-width="1.00"/>
<line x1="1200.99" y1="207.41" x2="1200.99" y2="216.01" stroke="#000" stroke-width="1.00"/>
<line x1="1198.59" y1="207.41" x2="1203.39" y2="207.41" stroke="#000" stroke-width="1.00"/>
<line x1="1198.59" y1="216.01" x2="1203.39" y2="216.01" stroke="#000" stroke-width="1.00"/>
<line x1="1216.98" y1="207.94" x2="1216.98" y2="216.54" stroke="#000" stroke-width="1.00"/>
<line x1="1214.58" y1="207.94" x2="1219.38" y2="207.94" stroke="#000" stroke-width="1.00"/>
<line x1="1214.58" y1="216.54" x2="1219.38" y2="216.54" stroke="#000" stroke-width="1.00"/>
<line x1="1232.97" y1="207.41" x2="1232.97" y2="216.01" stroke="#000" stroke-width="1.00"/>
<line x1="1230.57" y1="207.41" x2="1235.37" y2="207.41" stroke="#000" stroke-width="1.00"/>
<line x1="1230.57" y1="216.01" x2="1235.37" y2="216.01" stroke="#000" stroke-width="1.00"/>
<line x1="1248.96" y1="205.29" x2="1248.96" y2="213.89" stroke="#000" stroke-width="1.00"/>
<line x1="1246.56" y1="205.29" x2="1251.36" y2="205.29" stroke="#000" stroke-width="1.00"/>
<line x1="1246.56" y1="213.89" x2="1251.36" y2="213.89" stroke="#000" stroke-width="1.00"/>
<line x1="1264.95" y1="206.35" x2="1264.95" y2="214.95" stroke="#000" stroke-width="1.00"/>
<line x1="1262.55" y1="206.35" x2="1267.35" y2="206.35" stroke="#000" stroke-width="1.00"/>
<line x1="1262.55" y1="214.95" x2="1267.35" y2="214.95" stroke="#000" stroke-width="1.00"/>
<line x1="1280.94" y1="203.69" x2="1280.94" y2="212.29" stroke="#000" stroke-width="1.00"/>
<line x1="1278.54" y1="203.69" x2="1283.34" y2="203.69" stroke="#000" stroke-width="1.00"/>
<line x1="1278.54" y1="212.29" x2="1283.34" y2="212.29" stroke="#000" stroke-width="1.00"/>
<line x1="1296.93" y1="207.41" x2="1296.93" y2="216.01" stroke="#000" stroke-width="1.00"/>
<line x1="1294.53" y1="207.41" x2="1299.33" y2="207.41" stroke="#000" stroke-width="1.00"/>
<line x1="1294.53" y1="216.01" x2="1299.33" y2="216.01" stroke="#000" stroke-width="1.00"/>
<line x1="1312.92" y1="206.88" x2="1312.92" y2="215.48" stroke="#000" stroke-width="1.00"/>
<line x1="1310.52" y1="206.88" x2="1315.32" y2="206.88" stroke="#000" stroke-width="1.00"/>
<line x1="1310.52" y1="215.48" x2="1315.32" y2="215.48" stroke="#000" stroke-width="1.00"/>
<polyline points="881.19,222.33 897.18,217.02 913.17,211.98 929.16,206.67 945.15,201.62 961.14,198.70 977.13,196.31 993.12,193.66 1009.11,190.74 1025.10,188.88 1041.09,185.16 1057.08,176.66 1073.07,175.07 1089.06,169.23 1105.05,165.51 1121.04,164.45 1137.03,159.14 1153.02,153.30 1169.01,151.18 1185.00,148.52 1200.99,146.93 1216.98,145.87 1232.97,142.68 1248.96,142.68 1264.95,141.35 1280.94,141.35 1296.93,142.68 1312.92,142.68" fill="none" stroke="#000" stroke-width="1.00"/>
<line x1="881.19" y1="215.53" x2="881.19" y2="229.13" stroke="#000" stroke-width="1.00"/>
<line x1="878.79" y1="215.53" x2="883.59" y2="215.53" stroke="#000" stroke-width="1.00"/>
<line x1="878.79" y1="229.13" x2="883.59" y2="229.13" stroke="#000" stroke-width="1.00"/>
<line x1="897.18" y1="211.02" x2="897.18" y2="223.02" stroke="#000" stroke-width="1.00"/>
<line x1="894.78" y1="211.02" x2="899.58" y2="211.02" stroke="#000" stroke-width="1.00"/>
<line x1="894.78" y1="223.02" x2="899.58" y2="223.02" stroke="#000" stroke-width="1.00"/>
<line x1="913.17" y1="203.48" x2="913.17" y2="220.48" stroke="#000" stroke-width="1.00"/>
<line x1="910.77" y1="203.48" x2="915.57" y2="203.48" stroke="#000" stroke-width="1.00"/>
<line x1="910.77" y1="220.48" x2="915.57" y2="220.48" stroke="#000" stroke-width="1.00"/>
<line x1="929.16" y1="198.17" x2="929.16" y2="215.17" stroke="#000" stroke-width="1.00"/>
<line x1="926.76" y1="198.17" x2="931.56" y2="198.17" stroke="#000" stroke-width="1.00"/>
<line x1="926.76" y1="215.17" x2="931.56" y2="215.17" stroke="#000" stroke-width="1.00"/>
<line x1="945.15" y1="193.62" x2="945.15" y2="209.62" stroke="#000" stroke-width="1.00"/>
<line x1="942.75" y1="193.62" x2="947.55" y2="193.62" stroke="#000" stroke-width="1.00"/>
<line x1="942.75" y1="209.62" x2="947.55" y2="209.62" stroke="#000" stroke-width="1.00"/>
<line x1="961.14" y1="189.70" x2="961.14" y2="207.70" stroke="#000" stroke-width="1.00"/>
<line x1="958.74" y1="189.70" x2="963.54" y2="189.70" stroke="#000" stroke-width="1.00"/>
<line x1="958.74" y1="207.70" x2="963.54" y2="207.70" stroke="#000" stroke-width="1.00"/>
<line x1="977.13" y1="188.81" x2="977.13" y2="203.81" stroke="#000" stroke-width="1.00"/>
<line x1="974.73" y1="188.81" x2="979.53" y2="188.81" stroke="#000" stroke-width="1.00"/>
<line x1="974.73" y1="203.81" x2="979.53" y2="203.81" stroke="#000" stroke-width="1.00"/>
<line x1="993.12" y1="186.16" x2="993.12" y2="201.16" stroke="#000" stroke-width="1.00"/>
<line x1="990.72" y1="186.16" x2="995.52" y2="186.16" stroke="#000" stroke-width="1.00"/>
<line x1="990.72" y1="201.16" x2="995.52" y2="201.16" stroke="#000" stroke-width="1.00"/>
<line x1="1009.11" y1="183.94" x2="1009.11" y2="197.54" stroke="#000" stroke-width="1.00"/>
<line x1="1006.71" y1="183.94" x2="1011.51" y2="183.94" stroke="#000" stroke-width="1.00"/>
<line x1="1006.71" y1="197.54" x2="1011.51" y2="197.54" stroke="#000" stroke-width="1.00"/>
<line x1="1025.10" y1="182.08" x2="1025.10" y2="195.68" stroke="#000" stroke-width="1.00"/>
<line x1="1022.70" y1="182.08" x2="1027.50" y2="182.08" stroke="#000" stroke-width="1.00"/>
<line x1="1022.70" y1="195.68" x2="1027.50" y2="195.68" stroke="#000" stroke-width="1.00"/>
<line x1="1041.09" y1="178.36" x2="1041.09" y2="191.96" stroke="#000" stroke-width="1.00"/>
<line x1="1038.69" y1="178.36" x2="1043.49" y2="178.36" stroke="#000" stroke-width="1.00"/>
<line x1="1038.69" y1="191.96" x2="1043.49" y2="191.96" stroke="#000" stroke-width="1.00"/>
<line x1="1057.08" y1="169.16" x2="1057.08" y2="184.16" stroke="#000" stroke-width="1.00"/>
<line x1="1054.68" y1="169.16" x2="1059.48" y2="169.16" stroke="#000" stroke-width="1.00"/>
<line x1="1054.68" y1="184.16" x2="1059.48" y2="184.16" stroke="#000" stroke-width="1.00"/>
<line x1="1073.07" y1="167.07" x2="1073.07" y2="183.07" stroke="#000" stroke-width="1.00"/>
<line x1="1070.67" y1="167.07" x2="1075.47" y2="167.07" stroke="#000" stroke-width="1.00"/>
<line x1="1070.67" y1="183.07" x2="1075.47" y2="183.07" stroke="#000" stroke-width="1.00"/>
<line x1="1089.06" y1="162.43" x2="1089.06" y2="176.03" stroke="#000" stroke-width="1.00"/>
<line x1="1086.66" y1="162.43" x2="1091.46" y2="162.43" stroke="#000" stroke-width="1.00"/>
<line x1="1086.66" y1="176.03" x2="1091.46" y2="176.03" stroke="#000" stroke-width="1.00"/>
<line x1="1105.05" y1="158.71" x2="1105.05" y2="172.31" stroke="#000" stroke-width="1.00"/>
<line x1="1102.65" y1="158.71" x2="1107.45" y2="158.71" stroke="#000" stroke-width="1.00"/>
<line x1="1102.65" y1="172.31" x2="1107.45" y2="172.31" stroke="#000" stroke-width="1.00"/>
<line x1="1121.04" y1="157.65" x2="1121.04" y2="171.25" stroke="#000" stroke-width="1.00"/>
<line x1="1118.64" y1="157.65" x2="1123.44" y2="157.65" stroke="#000" stroke-width="1.00"/>
<line x1="1118.64" y1="171.25" x2="1123.44" y2="171.25" stroke="#000" stroke-width="1.00"/>
<line x1="1137.03" y1="152.34" x2="1137.03" y2="165.94" stroke="#000" stroke-width="1.00"/>
<line x1="1134.63" y1="152.34" x2="1139.43" y2="152.34" stroke="#000" stroke-width="1.00"/>
<line x1="1134.63" y1="165.94" x2="1139.43" y2="165.94" stroke="#000" stroke-width="1.00"/>
<line x1="1153.02" y1="146.50" x2="1153.02" y2="160.10" stroke="#000" stroke-width="1.00"/>
<line x1="1150.62" y1="146.50" x2="1155.42" y2="146.50" stroke="#000" stroke-width="1.00"/>
<line x1="1150.62" y1="160.10" x2="1155.42" y2="160.10" stroke="#000" stroke-width="1.00"/>
<line x1="1169.01" y1="144.38" x2="1169.01" y2="157.98" stroke="#000" stroke-width="1.00"/>
<line x1="1166.61" y1="144.38" x2="1171.41" y2="144.38" stroke="#000" stroke-width="1.00"/>
<line x1="1166.61" y1="157.98" x2="1171.41" y2="157.98" stroke="#000" stroke-width="1.00"/>
<line x1="1185.00" y1="141.72" x2="1185.00" y2="155.32" stroke="#000" stroke-width="1.00"/>
<line x1="1182.60" y1="141.72" x2="1187.40" y2="141.72" stroke="#000" stroke-width="1.00"/>
<line x1="1182.60" y1="155.32" x2="1187.40" y2="155.32" stroke="#000" stroke-width="1.00"/>
<line x1="1200.99" y1="140.13" x2="1200.99" y2="153.73" stroke="#000" stroke-width="1.00"/>
<line x1="1198.59" y1="140.13" x2="1203.39" y2="140.13" stroke="#000" stroke-width="1.00"/>
<line x1="1198.59" y1="153.73" x2="1203.39" y2="153.73" stroke="#000" stroke-width="1.00"/>
<line x1="1216.98" y1="139.07" x2="1216.98" y2="152.67" stroke="#000" stroke-width="1.00"/>
<line x1="1214.58" y1="139.07" x2="1219.38" y2="139.07" stroke="#000" stroke-width="1.00"/>
<line x1="1214.58" y1="152.67" x2="1219.38" y2="152.67" stroke="#000" stroke-width="1.00"/>
<line x1="1232.97" y1="135.88" x2="1232.97" y2="149.48" stroke="#000" stroke-width="1.00"/>
<line x1="1230.57" y1="135.88" x2="1235.37" y2="135.88" stroke="#000" stroke-width="1.00"/>
<line x1="1230.57" y1="149.48" x2="1235.37" y2="149.48" stroke="#000" stroke-width="1.00"/>
<line x1="1248.96" y1="135.88" x2="1248.96" y2="149.48" stroke="#000" stroke-width="1.00"/>
<line x1="1246.56" y1="135.88" x2="1251.36" y2="135.88" stroke="#000" stroke-width="1.00"/>
<line x1="1246.56" y1="149.48" x2="1251.36" y2="149.48" stroke="#000" stroke-width="1.00"/>
<line x1="1264.95" y1="134.55" x2="1264.95" y2="148.15" stroke="#000" stroke-width="1.00"/>
<line x1="1262.55" y1="134.55" x2="1267.35" y2="134.55" stroke="#000" stroke-width="1.00"/>
<line x1="1262.55" y1="148.15" x2="1267.35" y2="148.15" stroke="#000" stroke-width="1.00"/>
<line x1="1280.94" y1="134.55" x2="1280.94" y2="148.15" stroke="#000" stroke-width="1.00"/>
<line x1="1278.54" y1="134.55" x2="1283.34" y2="134.55" stroke="#000" stroke-width="1.00"/>
<line x1="1278.54" y1="148.15" x2="1283.34" y2="148.15" stroke="#000" stroke-width="1.00"/>
<line x1="1296.93" y1="135.88" x2="1296.93" y2="149.48" stroke="#000" stroke-width="1.00"/>
<line x1="1294.53" y1="135.88" x2="1299.33" y2="135.88" stroke="#000" stroke-width="1.00"/>
<line x1="1294.53" y1="149.48" x2="1299.33" y2="149.48" stroke="#000" stroke-width="1.00"/>
<line x1="1312.92" y1="135.88" x2="1312.92" y2="149.48" stroke="#000" stroke-width="1.00"/>
<line x1="1310.52" y1="135.88" x2="1315.32" y2="135.88" stroke="#000" stroke-width="1.00"/>
<line x1="1310.52" y1="149.48" x2="1315.32" y2="149.48" stroke="#000" stroke-width="1.00"/>
<polyline points="881.19,220.74 897.18,212.77 913.17,196.31 929.16,175.07 945.15,172.42 961.14,170.03 977.13,165.51 993.12,159.14 1009.11,150.65 1025.10,150.65 1041.09,150.65 1057.08,149.58 1073.07,148.79 1089.06,146.93 1105.05,146.40 1121.04,143.48 1137.03,140.56 1153.02,140.56 1169.01,137.90 1185.00,132.59 1200.99,127.28 1216.98,119.32 1232.97,116.66 1248.96,112.41 1264.95,111.35 1280.94,106.57 1296.93,109.23 1312.92,106.57" fill="none" stroke="#000" stroke-width="1.00"/>
<line x1="881.19" y1="214.44" x2="881.19" y2="227.04" stroke="#000" stroke-width="1.00"/>
<line x1="878.79" y1="214.44" x2="883.59" y2="214.44" stroke="#000" stroke-width="1.00"/>
<line x1="878.79" y1="227.04" x2="883.59" y2="227.04" stroke="#000" stroke-width="1.00"/>
<line x1="897.18" y1="206.47" x2="897.18" y2="219.07" stroke="#000" stroke-width="1.00"/>
<line x1="894.78" y1="206.47" x2="899.58" y2="206.47" stroke="#000" stroke-width="1.00"/>
<line x1="894.78" y1="219.07" x2="899.58" y2="219.07" stroke="#000" stroke-width="1.00"/>
<line x1="913.17" y1="188.31" x2="913.17" y2="204.31" stroke="#000" stroke-width="1.00"/>
<line x1="910.77" y1="188.31" x2="915.57" y2="188.31" stroke="#000" stroke-width="1.00"/>
<line x1="910.77" y1="204.31" x2="915.57" y2="204.31" stroke="#000" stroke-width="1.00"/>
<line x1="929.16" y1="165.07" x2="929.16" y2="185.07" stroke="#000" stroke-width="1.00"/>
<line x1="926.76" y1="165.07" x2="931.56" y2="165.07" stroke="#000" stroke-width="1.00"/>
<line x1="926.76" y1="185.07" x2="931.56" y2="185.07" stroke="#000" stroke-width="1.00"/>
<line x1="945.15" y1="166.12" x2="945.15" y2="178.72" stroke="#000" stroke-width="1.00"/>
<line x1="942.75" y1="166.12" x2="947.55" y2="166.12" stroke="#000" stroke-width="1.00"/>
<line x1="942.75" y1="178.72" x2="947.55" y2="178.72" stroke="#000" stroke-width="1.00"/>
<line x1="961.14" y1="163.73" x2="961.14" y2="176.33" stroke="#000" stroke-width="1.00"/>
<line x1="958.74" y1="163.73" x2="963.54" y2="163.73" stroke="#000" stroke-width="1.00"/>
<line x1="958.74" y1="176.33" x2="963.54" y2="176.33" stroke="#000" stroke-width="1.00"/>
<line x1="977.13" y1="159.21" x2="977.13" y2="171.81" stroke="#000" stroke-width="1.00"/>
<line x1="974.73" y1="159.21" x2="979.53" y2="159.21" stroke="#000" stroke-width="1.00"/>
<line x1="974.73" y1="171.81" x2="979.53" y2="171.81" stroke="#000" stroke-width="1.00"/>
<line x1="993.12" y1="152.84" x2="993.12" y2="165.44" stroke="#000" stroke-width="1.00"/>
<line x1="990.72" y1="152.84" x2="995.52" y2="152.84" stroke="#000" stroke-width="1.00"/>
<line x1="990.72" y1="165.44" x2="995.52" y2="165.44" stroke="#000" stroke-width="1.00"/>
<line x1="1009.11" y1="144.34" x2="1009.11" y2="156.95" stroke="#000" stroke-width="1.00"/>
<line x1="1006.71" y1="144.34" x2="1011.51" y2="144.34" stroke="#000" stroke-width="1.00"/>
<line x1="1006.71" y1="156.95" x2="1011.51" y2="156.95" stroke="#000" stroke-width="1.00"/>
<line x1="1025.10" y1="144.34" x2="1025.10" y2="156.95" stroke="#000" stroke-width="1.00"/>
<line x1="1022.70" y1="144.34" x2="1027.50" y2="144.34" stroke="#000" stroke-width="1.00"/>
<line x1="1022.70" y1="156.95" x2="1027.50" y2="156.95" stroke="#000" stroke-width="1.00"/>
<line x1="1041.09" y1="144.34" x2="1041.09" y2="156.95" stroke="#000" stroke-width="1.00"/>
<line x1="1038.69" y1="144.34" x2="1043.49" y2="144.34" stroke="#000" stroke-width="1.00"/>
<line x1="1038.69" y1="156.95" x2="1043.49" y2="156.95" stroke="#000" stroke-width="1.00"/>
<line x1="1057.08" y1="141.58" x2="1057.08" y2="157.58" stroke="#000" stroke-width="1.00"/>
<line x1="1054.68" y1="141.58" x2="1059.48" y2="141.58" stroke="#000" stroke-width="1.00"/>
<line x1="1054.68" y1="157.58" x2="1059.48" y2="157.58" stroke="#000" stroke-width="1.00"/>
<line x1="1073.07" y1="141.79" x2="1073.07" y2="155.79" stroke="#000" stroke-width="1.00"/>
<line x1="1070.67" y1="141.79" x2="1075.47" y2="141.79" stroke="#000" stroke-width="1.00"/>
<line x1="1070.67" y1="155.79" x2="1075.47" y2="155.79" stroke="#000" stroke-width="1.00"/>
<line x1="1089.06" y1="140.63" x2="1089.06" y2="153.23" stroke="#000" stroke-width="1.00"/>
<line x1="1086.66" y1="140.63" x2="1091.46" y2="140.63" stroke="#000" stroke-width="1.00"/>
<line x1="1086.66" y1="153.23" x2="1091.46" y2="153.23" stroke="#000" stroke-width="1.00"/>
<line x1="1105.05" y1="140.10" x2="1105.05" y2="152.70" stroke="#000" stroke-width="1.00"/>
<line x1="1102.65" y1="140.10" x2="1107.45" y2="140.10" stroke="#000" stroke-width="1.00"/>
<line x1="1102.65" y1="152.70" x2="1107.45" y2="152.70" stroke="#000" stroke-width="1.00"/>
<line x1="1121.04" y1="137.18" x2="1121.04" y2="149.78" stroke="#000" stroke-width="1.00"/>
<line x1="1118.64" y1="137.18" x2="1123.44" y2="137.18" stroke="#000" stroke-width="1.00"/>
<line x1="1118.64" y1="149.78" x2="1123.44" y2="149.78" stroke="#000" stroke-width="1.00"/>
<line x1="1137.03" y1="134.26" x2="1137.03" y2="146.86" stroke="#000" stroke-width="1.00"/>
<line x1="1134.63" y1="134.26" x2="1139.43" y2="134.26" stroke="#000" stroke-width="1.00"/>
<line x1="1134.63" y1="146.86" x2="1139.43" y2="146.86" stroke="#000" stroke-width="1.00"/>
<line x1="1153.02" y1="134.26" x2="1153.02" y2="146.86" stroke="#000" stroke-width="1.00"/>
<line x1="1150.62" y1="134.26" x2="1155.42" y2="134.26" stroke="#000" stroke-width="1.00"/>
<line x1="1150.62" y1="146.86" x2="1155.42" y2="146.86" stroke="#000" stroke-width="1.00"/>
<line x1="1169.01" y1="131.60" x2="1169.01" y2="144.20" stroke="#000" stroke-width="1.00"/>
<line x1="1166.61" y1="131.60" x2="1171.41" y2="131.60" stroke="#000" stroke-width="1.00"/>
<line x1="1166.61" y1="144.20" x2="1171.41" y2="144.20" stroke="#000" stroke-width="1.00"/>
<line x1="1185.00" y1="126.29" x2="1185.00" y2="138.89" stroke="#000" stroke-width="1.00"/>
<line x1="1182.60" y1="126.29" x2="1187.40" y2="126.29" stroke="#000" stroke-width="1.00"/>
<line x1="1182.60" y1="138.89" x2="1187.40" y2="138.89" stroke="#000" stroke-width="1.00"/>
<line x1="1200.99" y1="120.98" x2="1200.99" y2="133.58" stroke="#000" stroke-width="1.00"/>
<line x1="1198.59" y1="120.98" x2="1203.39" y2="120.98" stroke="#000" stroke-width="1.00"/>
<line x1="1198.59" y1="133.58" x2="1203.39" y2="133.58" stroke="#000" stroke-width="1.00"/>
<line x1="1216.98" y1="113.02" x2="1216.98" y2="125.62" stroke="#000" stroke-width="1.00"/>
<line x1="1214.58" y1="113.02" x2="1219.38" y2="113.02" stroke="#000" stroke-width="1.00"/>
<line x1="1214.58" y1="125.62" x2="1219.38" y2="125.62" stroke="#000" stroke-width="1.00"/>
<line x1="1232.97" y1="110.36" x2="1232.97" y2="122.96" stroke="#000" stroke-width="1.00"/>
<line x1="1230.57" y1="110.36" x2="1235.37" y2="110.36" stroke="#000" stroke-width="1.00"/>
<line x1="1230.57" y1="122.96" x2="1235.37" y2="122.96" stroke="#000" stroke-width="1.00"/>
<line x1="1248.96" y1="106.11" x2="1248.96" y2="118.71" stroke="#000" stroke-width="1.00"/>
<line x1="1246.56" y1="106.11" x2="1251.36" y2="106.11" stroke="#000" stroke-width="1.00"/>
<line x1="1246.56" y1="118.71" x2="1251.36" y2="118.71" stroke="#000" stroke-width="1.00"/>
<line x1="1264.95" y1="105.05" x2="1264.95" y2="117.65" stroke="#000" stroke-width="1.00"/>
<line x1="1262.55" y1="105.05" x2="1267.35" y2="105.05" stroke="#000" stroke-width="1.00"/>
<line x1="1262.55" y1="117.65" x2="1267.35" y2="117.65" stroke="#000" stroke-width="1.00"/>
<line x1="1280.94" y1="100.27" x2="1280.94" y2="112.87" stroke="#000" stroke-width="1.00"/>
<line x1="1278.54" y1="100.27" x2="1283.34" y2="100.27" stroke="#000" stroke-width="1.00"/>
<line x1="1278.54" y1="112.87" x2="1283.34" y2="112.87" stroke="#000" stroke-width="1.00"/>
<line x1="1296.93" y1="102.93" x2="1296.93" y2="115.53" stroke="#000" stroke-width="1.00"/>
<line x1="1294.53" y1="102.93" x2="1299.33" y2="102.93" stroke="#000" stroke-width="1.00"/>
<line x1="1294.53" y1="115.53" x2="1299.33" y2="115.53" stroke="#000" stroke-width="1.00"/>
<line x1="1312.92" y1="100.27" x2="1312.92" y2="112.87" stroke="#000" stroke-width="1.00"/>
<line x1="1310.52" y1="100.27" x2="1315.32" y2="100.27" stroke="#000" stroke-width="1.00"/>
<line x1="1310.52" y1="112.87" x2="1315.32" y2="112.87" stroke="#000" stroke-width="1.00"/>
<polyline points="881.19,221.27 897.18,211.98 913.17,196.31 929.16,185.69 945.15,169.76 961.14,164.45 977.13,169.76 993.12,153.30 1009.11,147.99 1025.10,143.21 1041.09,137.90 1057.08,129.94 1073.07,127.28 1089.06,121.97 1105.05,119.32 1121.04,117.72 1137.03,118.25 1153.02,116.66 1169.01,111.35 1185.00,113.74 1200.99,111.35 1216.98,97.81 1232.97,95.42 1248.96,92.50 1264.95,92.50 1280.94,89.85 1296.93,86.93 1312.92,86.93" fill="none" stroke="#000" stroke-width="1.00"/>
<line x1="881.19" y1="215.47" x2="881.19" y2="227.07" stroke="#000" stroke-width="1.00"/>
<line x1="878.79" y1="215.47" x2="883.59" y2="215.47" stroke="#000" stroke-width="1.00"/>
<line x1="878.79" y1="227.07" x2="883.59" y2="227.07" stroke="#000" stroke-width="1.00"/>
<line x1="897.18" y1="206.98" x2="897.18" y2="216.98" stroke="#000" stroke-width="1.00"/>
<line x1="894.78" y1="206.98" x2="899.58" y2="206.98" stroke="#000" stroke-width="1.00"/>
<line x1="894.78" y1="216.98" x2="899.58" y2="216.98" stroke="#000" stroke-width="1.00"/>
<line x1="913.17" y1="189.31" x2="913.17" y2="203.31" stroke="#000" stroke-width="1.00"/>
<line x1="910.77" y1="189.31" x2="915.57" y2="189.31" stroke="#000" stroke-width="1.00"/>
<line x1="910.77" y1="203.31" x2="915.57" y2="203.31" stroke="#000" stroke-width="1.00"/>
<line x1="929.16" y1="179.89" x2="929.16" y2="191.49" stroke="#000" stroke-width="1.00"/>
<line x1="926.76" y1="179.89" x2="931.56" y2="179.89" stroke="#000" stroke-width="1.00"/>
<line x1="926.76" y1="191.49" x2="931.56" y2="191.49" stroke="#000" stroke-width="1.00"/>
<line x1="945.15" y1="163.96" x2="945.15" y2="175.56" stroke="#000" stroke-width="1.00"/>
<line x1="942.75" y1="163.96" x2="947.55" y2="163.96" stroke="#000" stroke-width="1.00"/>
<line x1="942.75" y1="175.56" x2="947.55" y2="175.56" stroke="#000" stroke-width="1.00"/>
<line x1="961.14" y1="158.65" x2="961.14" y2="170.25" stroke="#000" stroke-width="1.00"/>
<line x1="958.74" y1="158.65" x2="963.54" y2="158.65" stroke="#000" stroke-width="1.00"/>
<line x1="958.74" y1="170.25" x2="963.54" y2="170.25" stroke="#000" stroke-width="1.00"/>
<line x1="977.13" y1="163.96" x2="977.13" y2="175.56" stroke="#000" stroke-width="1.00"/>
<line x1="974.73" y1="163.96" x2="979.53" y2="163.96" stroke="#000" stroke-width="1.00"/>
<line x1="974.73" y1="175.56" x2="979.53" y2="175.56" stroke="#000" stroke-width="1.00"/>
<line x1="993.12" y1="147.50" x2="993.12" y2="159.10" stroke="#000" stroke-width="1.00"/>
<line x1="990.72" y1="147.50" x2="995.52" y2="147.50" stroke="#000" stroke-width="1.00"/>
<line x1="990.72" y1="159.10" x2="995.52" y2="159.10" stroke="#000" stroke-width="1.00"/>
<line x1="1009.11" y1="142.19" x2="1009.11" y2="153.79" stroke="#000" stroke-width="1.00"/>
<line x1="1006.71" y1="142.19" x2="1011.51" y2="142.19" stroke="#000" stroke-width="1.00"/>
<line x1="1006.71" y1="153.79" x2="1011.51" y2="153.79" stroke="#000" stroke-width="1.00"/>
<line x1="1025.10" y1="137.41" x2="1025.10" y2="149.01" stroke="#000" stroke-width="1.00"/>
<line x1="1022.70" y1="137.41" x2="1027.50" y2="137.41" stroke="#000" stroke-width="1.00"/>
<line x1="1022.70" y1="149.01" x2="1027.50" y2="149.01" stroke="#000" stroke-width="1.00"/>
<line x1="1041.09" y1="132.10" x2="1041.09" y2="143.70" stroke="#000" stroke-width="1.00"/>
<line x1="1038.69" y1="132.10" x2="1043.49" y2="132.10" stroke="#000" stroke-width="1.00"/>
<line x1="1038.69" y1="143.70" x2="1043.49" y2="143.70" stroke="#000" stroke-width="1.00"/>
<line x1="1057.08" y1="124.14" x2="1057.08" y2="135.74" stroke="#000" stroke-width="1.00"/>
<line x1="1054.68" y1="124.14" x2="1059.48" y2="124.14" stroke="#000" stroke-width="1.00"/>
<line x1="1054.68" y1="135.74" x2="1059.48" y2="135.74" stroke="#000" stroke-width="1.00"/>
<line x1="1073.07" y1="121.48" x2="1073.07" y2="133.08" stroke="#000" stroke-width="1.00"/>
<line x1="1070.67" y1="121.48" x2="1075.47" y2="121.48" stroke="#000" stroke-width="1.00"/>
<line x1="1070.67" y1="133.08" x2="1075.47" y2="133.08" stroke="#000" stroke-width="1.00"/>
<line x1="1089.06" y1="116.17" x2="1089.06" y2="127.77" stroke="#000" stroke-width="1.00"/>
<line x1="1086.66" y1="116.17" x2="1091.46" y2="116.17" stroke="#000" stroke-width="1.00"/>
<line x1="1086.66" y1="127.77" x2="1091.46" y2="127.77" stroke="#000" stroke-width="1.00"/>
<line x1="1105.05" y1="113.52" x2="1105.05" y2="125.12" stroke="#000" stroke-width="1.00"/>
<line x1="1102.65" y1="113.52" x2="1107.45" y2="113.52" stroke="#000" stroke-width="1.00"/>
<line x1="1102.65" y1="125.12" x2="1107.45" y2="125.12" stroke="#000" stroke-width="1.00"/>
<line x1="1121.04" y1="111.92" x2="1121.04" y2="123.52" stroke="#000" stroke-width="1.00"/>
<line x1="1118.64" y1="111.92" x2="1123.44" y2="111.92" stroke="#000" stroke-width="1.00"/>
<line x1="1118.64" y1="123.52" x2="1123.44" y2="123.52" stroke="#000" stroke-width="1.00"/>
<line x1="1137.03" y1="112.45" x2="1137.03" y2="124.05" stroke="#000" stroke-width="1.00"/>
<line x1="1134.63" y1="112.45" x2="1139.43" y2="112.45" stroke="#000" stroke-width="1.00"/>
<line x1="1134.63" y1="124.05" x2="1139.43" y2="124.05" stroke="#000" stroke-width="1.00"/>
<line x1="1153.02" y1="110.86" x2="1153.02" y2="122.46" stroke="#000" stroke-width="1.00"/>
<line x1="1150.62" y1="110.86" x2="1155.42" y2="110.86" stroke="#000" stroke-width="1.00"/>
<line x1="1150.62" y1="122.46" x2="1155.42" y2="122.46" stroke="#000" stroke-width="1.00"/>
<line x1="1169.01" y1="105.55" x2="1169.01" y2="117.15" stroke="#000" stroke-width="1.00"/>
<line x1="1166.61" y1="105.55" x2="1171.41" y2="105.55" stroke="#000" stroke-width="1.00"/>
<line x1="1166.61" y1="117.15" x2="1171.41" y2="117.15" stroke="#000" stroke-width="1.00"/>
<line x1="1185.00" y1="107.94" x2="1185.00" y2="119.54" stroke="#000" stroke-width="1.00"/>
<line x1="1182.60" y1="107.94" x2="1187.40" y2="107.94" stroke="#000" stroke-width="1.00"/>
<line x1="1182.60" y1="119.54" x2="1187.40" y2="119.54" stroke="#000" stroke-width="1.00"/>
<line x1="1200.99" y1="105.55" x2="1200.99" y2="117.15" stroke="#000" stroke-width="1.00"/>
<line x1="1198.59" y1="105.55" x2="1203.39" y2="105.55" stroke="#000" stroke-width="1.00"/>
<line x1="1198.59" y1="117.15" x2="1203.39" y2="117.15" stroke="#000" stroke-width="1.00"/>
<line x1="1216.98" y1="92.01" x2="1216.98" y2="103.61" stroke="#000" stroke-width="1.00"/>
<line x1="1214.58" y1="92.01" x2="1219.38" y2="92.01" stroke="#000" stroke-width="1.00"/>
<line x1="1214.58" y1="103.61" x2="1219.38" y2="103.61" stroke="#000" stroke-width="1.00"/>
<line x1="1232.97" y1="89.62" x2="1232.97" y2="101.22" stroke="#000" stroke-width="1.00"/>
<line x1="1230.57" y1="89.62" x2="1235.37" y2="89.62" stroke="#000" stroke-width="1.00"/>
<line x1="1230.57" y1="101.22" x2="1235.37" y2="101.22" stroke="#000" stroke-width="1.00"/>
<line x1="1248.96" y1="86.70" x2="1248.96" y2="98.30" stroke="#000" stroke-width="1.00"/>
<line x1="1246.56" y1="86.70" x2="1251.36" y2="86.70" stroke="#000" stroke-width="1.00"/>
<line x1="1246.56" y1="98.30" x2="1251.36" y2="98.30" stroke="#000" stroke-width="1.00"/>
<line x1="1264.95" y1="86.70" x2="1264.95" y2="98.30" stroke="#000" stroke-width="1.00"/>
<line x1="1262.55" y1="86.70" x2="1267.35" y2="86.70" stroke="#000" stroke-width="1.00"/>
<line x1="1262.55" y1="98.30" x2="1267.35" y2="98.30" stroke="#000" stroke-width="1.00"/>
<line x1="1280.94" y1="84.05" x2="1280.94" y2="95.65" stroke="#000" stroke-width="1.00"/>
<line x1="1278.54" y1="84.05" x2="1283.34" y2="84.05" stroke="#000" stroke-width="1.00"/>
<line x1="1278.54" y1="95.65" x2="1283.34" y2="95.65" stroke="#000" stroke-width="1.00"/>
<line x1="1296.93" y1="81.13" x2="1296.93" y2="92.73" stroke="#000" stroke-width="1.00"/>
<line x1="1294.53" y1="81.13" x2="1299.33" y2="81.13" stroke="#000" stroke-width="1.00"/>
<line x1="1294.53" y1="92.73" x2="1299.33" y2="92.73" stroke="#000" stroke-width="1.00"/>
<line x1="1312.92" y1="81.13" x2="1312.92" y2="92.73" stroke="#000" stroke-width="1.00"/>
<line x1="1310.52" y1="81.13" x2="1315.32" y2="81.13" stroke="#000" stroke-width="1.00"/>
<line x1="1310.52" y1="92.73" x2="1315.32" y2="92.73" stroke="#000" stroke-width="1.00"/>
<circle cx="881.19" cy="237.73" r="2.65" fill="#fff" stroke="#000" stroke-width="1.35"/>
<circle cx="897.18" cy="235.87" r="2.65" fill="#fff" stroke="#000" stroke-width="1.35"/>
<circle cx="913.17" cy="234.01" r="2.65" fill="#fff" stroke="#000" stroke-width="1.35"/>
<circle cx="929.16" cy="232.95" r="2.65" fill="#fff" stroke="#000" stroke-width="1.35"/>
<circle cx="945.15" cy="231.36" r="2.65" fill="#fff" stroke="#000" stroke-width="1.35"/>
<circle cx="961.14" cy="228.97" r="2.65" fill="#fff" stroke="#000" stroke-width="1.35"/>
<circle cx="977.13" cy="223.92" r="2.65" fill="#fff" stroke="#000" stroke-width="1.35"/>
<circle cx="993.12" cy="222.49" r="2.65" fill="#fff" stroke="#000" stroke-width="1.35"/>
<circle cx="1009.11" cy="221.80" r="2.65" fill="#fff" stroke="#000" stroke-width="1.35"/>
<circle cx="1025.10" cy="220.47" r="2.65" fill="#fff" stroke="#000" stroke-width="1.35"/>
<circle cx="1041.09" cy="219.99" r="2.65" fill="#fff" stroke="#000" stroke-width="1.35"/>
<circle cx="1057.08" cy="219.99" r="2.65" fill="#fff" stroke="#000" stroke-width="1.35"/>
<circle cx="1073.07" cy="219.14" r="2.65" fill="#fff" stroke="#000" stroke-width="1.35"/>
<circle cx="1089.06" cy="217.55" r="2.65" fill="#fff" stroke="#000" stroke-width="1.35"/>
<circle cx="1105.05" cy="215.96" r="2.65" fill="#fff" stroke="#000" stroke-width="1.35"/>
<circle cx="1121.04" cy="216.70" r="2.65" fill="#fff" stroke="#000" stroke-width="1.35"/>
<circle cx="1137.03" cy="212.51" r="2.65" fill="#fff" stroke="#000" stroke-width="1.35"/>
<circle cx="1153.02" cy="213.30" r="2.65" fill="#fff" stroke="#000" stroke-width="1.35"/>
<circle cx="1169.01" cy="213.04" r="2.65" fill="#fff" stroke="#000" stroke-width="1.35"/>
<circle cx="1185.00" cy="212.24" r="2.65" fill="#fff" stroke="#000" stroke-width="1.35"/>
<circle cx="1200.99" cy="211.71" r="2.65" fill="#fff" stroke="#000" stroke-width="1.35"/>
<circle cx="1216.98" cy="212.24" r="2.65" fill="#fff" stroke="#000" stroke-width="1.35"/>
<circle cx="1232.97" cy="211.71" r="2.65" fill="#fff" stroke="#000" stroke-width="1.35"/>
<circle cx="1248.96" cy="209.59" r="2.65" fill="#fff" stroke="#000" stroke-width="1.35"/>
<circle cx="1264.95" cy="210.65" r="2.65" fill="#fff" stroke="#000" stroke-width="1.35"/>
<circle cx="1280.94" cy="207.99" r="2.65" fill="#fff" stroke="#000" stroke-width="1.35"/>
<circle cx="1296.93" cy="211.71" r="2.65" fill="#fff" stroke="#000" stroke-width="1.35"/>
<circle cx="1312.92" cy="211.18" r="2.65" fill="#fff" stroke="#000" stroke-width="1.35"/>
<rect x="877.99" y="219.13" width="6.40" height="6.40" fill="#000" stroke="none" stroke-width="0.00"/>
<rect x="893.98" y="213.82" width="6.40" height="6.40" fill="#000" stroke="none" stroke-width="0.00"/>
<rect x="909.97" y="208.78" width="6.40" height="6.40" fill="#000" stroke="none" stroke-width="0.00"/>
<rect x="925.96" y="203.47" width="6.40" height="6.40" fill="#000" stroke="none" stroke-width="0.00"/>
<rect x="941.95" y="198.42" width="6.40" height="6.40" fill="#000" stroke="none" stroke-width="0.00"/>
<rect x="957.94" y="195.50" width="6.40" height="6.40" fill="#000" stroke="none" stroke-width="0.00"/>
<rect x="973.93" y="193.11" width="6.40" height="6.40" fill="#000" stroke="none" stroke-width="0.00"/>
<rect x="989.92" y="190.46" width="6.40" height="6.40" fill="#000" stroke="none" stroke-width="0.00"/>
<rect x="1005.91" y="187.54" width="6.40" height="6.40" fill="#000" stroke="none" stroke-width="0.00"/>
<rect x="1021.90" y="185.68" width="6.40" height="6.40" fill="#000" stroke="none" stroke-width="0.00"/>
<rect x="1037.89" y="181.96" width="6.40" height="6.40" fill="#000" stroke="none" stroke-width="0.00"/>
<rect x="1053.88" y="173.46" width="6.40" height="6.40" fill="#000" stroke="none" stroke-width="0.00"/>
<rect x="1069.87" y="171.87" width="6.40" height="6.40" fill="#000" stroke="none" stroke-width="0.00"/>
<rect x="1085.86" y="166.03" width="6.40" height="6.40" fill="#000" stroke="none" stroke-width="0.00"/>
<rect x="1101.85" y="162.31" width="6.40" height="6.40" fill="#000" stroke="none" stroke-width="0.00"/>
<rect x="1117.84" y="161.25" width="6.40" height="6.40" fill="#000" stroke="none" stroke-width="0.00"/>
<rect x="1133.83" y="155.94" width="6.40" height="6.40" fill="#000" stroke="none" stroke-width="0.00"/>
<rect x="1149.82" y="150.10" width="6.40" height="6.40" fill="#000" stroke="none" stroke-width="0.00"/>
<rect x="1165.81" y="147.98" width="6.40" height="6.40" fill="#000" stroke="none" stroke-width="0.00"/>
<rect x="1181.80" y="145.32" width="6.40" height="6.40" fill="#000" stroke="none" stroke-width="0.00"/>
<rect x="1197.79" y="143.73" width="6.40" height="6.40" fill="#000" stroke="none" stroke-width="0.00"/>
<rect x="1213.78" y="142.67" width="6.40" height="6.40" fill="#000" stroke="none" stroke-width="0.00"/>
<rect x="1229.77" y="139.48" width="6.40" height="6.40" fill="#000" stroke="none" stroke-width="0.00"/>
<rect x="1245.76" y="139.48" width="6.40" height="6.40" fill="#000" stroke="none" stroke-width="0.00"/>
<rect x="1261.75" y="138.15" width="6.40" height="6.40" fill="#000" stroke="none" stroke-width="0.00"/>
<rect x="1277.74" y="138.15" width="6.40" height="6.40" fill="#000" stroke="none" stroke-width="0.00"/>
<rect x="1293.73" y="139.48" width="6.40" height="6.40" fill="#000" stroke="none" stroke-width="0.00"/>
<rect x="1309.72" y="139.48" width="6.40" height="6.40" fill="#000" stroke="none" stroke-width="0.00"/>
<path d="M881.19 216.83 L884.59 223.13 L877.79 223.13 Z" fill="#000"/>
<path d="M897.18 208.87 L900.58 215.17 L893.78 215.17 Z" fill="#000"/>
<path d="M913.17 192.41 L916.57 198.71 L909.77 198.71 Z" fill="#000"/>
<path d="M929.16 171.17 L932.56 177.47 L925.76 177.47 Z" fill="#000"/>
<path d="M945.15 168.51 L948.55 174.81 L941.75 174.81 Z" fill="#000"/>
<path d="M961.14 166.12 L964.54 172.42 L957.74 172.42 Z" fill="#000"/>
<path d="M977.13 161.61 L980.53 167.91 L973.73 167.91 Z" fill="#000"/>
<path d="M993.12 155.24 L996.52 161.54 L989.72 161.54 Z" fill="#000"/>
<path d="M1009.11 146.74 L1012.51 153.04 L1005.71 153.04 Z" fill="#000"/>
<path d="M1025.10 146.74 L1028.50 153.04 L1021.70 153.04 Z" fill="#000"/>
<path d="M1041.09 146.74 L1044.49 153.04 L1037.69 153.04 Z" fill="#000"/>
<path d="M1057.08 145.68 L1060.48 151.98 L1053.68 151.98 Z" fill="#000"/>
<path d="M1073.07 144.88 L1076.47 151.18 L1069.67 151.18 Z" fill="#000"/>
<path d="M1089.06 143.02 L1092.46 149.32 L1085.66 149.32 Z" fill="#000"/>
<path d="M1105.05 142.49 L1108.45 148.79 L1101.65 148.79 Z" fill="#000"/>
<path d="M1121.04 139.57 L1124.44 145.87 L1117.64 145.87 Z" fill="#000"/>
<path d="M1137.03 136.65 L1140.43 142.95 L1133.63 142.95 Z" fill="#000"/>
<path d="M1153.02 136.65 L1156.42 142.95 L1149.62 142.95 Z" fill="#000"/>
<path d="M1169.01 134.00 L1172.41 140.30 L1165.61 140.30 Z" fill="#000"/>
<path d="M1185.00 128.69 L1188.40 134.99 L1181.60 134.99 Z" fill="#000"/>
<path d="M1200.99 123.38 L1204.39 129.68 L1197.59 129.68 Z" fill="#000"/>
<path d="M1216.98 115.41 L1220.38 121.71 L1213.58 121.71 Z" fill="#000"/>
<path d="M1232.97 112.76 L1236.37 119.06 L1229.57 119.06 Z" fill="#000"/>
<path d="M1248.96 108.51 L1252.36 114.81 L1245.56 114.81 Z" fill="#000"/>
<path d="M1264.95 107.45 L1268.35 113.75 L1261.55 113.75 Z" fill="#000"/>
<path d="M1280.94 102.67 L1284.34 108.97 L1277.54 108.97 Z" fill="#000"/>
<path d="M1296.93 105.32 L1300.33 111.62 L1293.53 111.62 Z" fill="#000"/>
<path d="M1312.92 102.67 L1316.32 108.97 L1309.52 108.97 Z" fill="#000"/>
<circle cx="881.19" cy="221.27" r="3.25" fill="#000" stroke="none" stroke-width="0.00"/>
<circle cx="897.18" cy="211.98" r="3.25" fill="#000" stroke="none" stroke-width="0.00"/>
<circle cx="913.17" cy="196.31" r="3.25" fill="#000" stroke="none" stroke-width="0.00"/>
<circle cx="929.16" cy="185.69" r="3.25" fill="#000" stroke="none" stroke-width="0.00"/>
<circle cx="945.15" cy="169.76" r="3.25" fill="#000" stroke="none" stroke-width="0.00"/>
<circle cx="961.14" cy="164.45" r="3.25" fill="#000" stroke="none" stroke-width="0.00"/>
<circle cx="977.13" cy="169.76" r="3.25" fill="#000" stroke="none" stroke-width="0.00"/>
<circle cx="993.12" cy="153.30" r="3.25" fill="#000" stroke="none" stroke-width="0.00"/>
<circle cx="1009.11" cy="147.99" r="3.25" fill="#000" stroke="none" stroke-width="0.00"/>
<circle cx="1025.10" cy="143.21" r="3.25" fill="#000" stroke="none" stroke-width="0.00"/>
<circle cx="1041.09" cy="137.90" r="3.25" fill="#000" stroke="none" stroke-width="0.00"/>
<circle cx="1057.08" cy="129.94" r="3.25" fill="#000" stroke="none" stroke-width="0.00"/>
<circle cx="1073.07" cy="127.28" r="3.25" fill="#000" stroke="none" stroke-width="0.00"/>
<circle cx="1089.06" cy="121.97" r="3.25" fill="#000" stroke="none" stroke-width="0.00"/>
<circle cx="1105.05" cy="119.32" r="3.25" fill="#000" stroke="none" stroke-width="0.00"/>
<circle cx="1121.04" cy="117.72" r="3.25" fill="#000" stroke="none" stroke-width="0.00"/>
<circle cx="1137.03" cy="118.25" r="3.25" fill="#000" stroke="none" stroke-width="0.00"/>
<circle cx="1153.02" cy="116.66" r="3.25" fill="#000" stroke="none" stroke-width="0.00"/>
<circle cx="1169.01" cy="111.35" r="3.25" fill="#000" stroke="none" stroke-width="0.00"/>
<circle cx="1185.00" cy="113.74" r="3.25" fill="#000" stroke="none" stroke-width="0.00"/>
<circle cx="1200.99" cy="111.35" r="3.25" fill="#000" stroke="none" stroke-width="0.00"/>
<circle cx="1216.98" cy="97.81" r="3.25" fill="#000" stroke="none" stroke-width="0.00"/>
<circle cx="1232.97" cy="95.42" r="3.25" fill="#000" stroke="none" stroke-width="0.00"/>
<circle cx="1248.96" cy="92.50" r="3.25" fill="#000" stroke="none" stroke-width="0.00"/>
<circle cx="1264.95" cy="92.50" r="3.25" fill="#000" stroke="none" stroke-width="0.00"/>
<circle cx="1280.94" cy="89.85" r="3.25" fill="#000" stroke="none" stroke-width="0.00"/>
<circle cx="1296.93" cy="86.93" r="3.25" fill="#000" stroke="none" stroke-width="0.00"/>
<circle cx="1312.92" cy="86.93" r="3.25" fill="#000" stroke="none" stroke-width="0.00"/>
<text x="879.24" y="216.44" style="font-size:10.00px;" fill="#111">*</text>
<text x="895.23" y="208.47" style="font-size:10.00px;" fill="#111">*</text>
<text x="911.22" y="190.31" style="font-size:10.00px;" fill="#111">*</text>
<text x="927.21" y="167.07" style="font-size:10.00px;" fill="#111">*</text>
<text x="943.20" y="165.96" style="font-size:10.00px;" fill="#111">*</text>
<text x="959.19" y="160.65" style="font-size:10.00px;" fill="#111">*</text>
<text x="975.18" y="161.21" style="font-size:10.00px;" fill="#111">*</text>
<text x="991.17" y="149.50" style="font-size:10.00px;" fill="#111">*</text>
<text x="1007.16" y="144.19" style="font-size:10.00px;" fill="#111">*</text>
<text x="1023.15" y="139.41" style="font-size:10.00px;" fill="#111">*</text>
<text x="1039.14" y="134.10" style="font-size:10.00px;" fill="#111">*</text>
<text x="1055.13" y="126.14" style="font-size:10.00px;" fill="#111">*</text>
<text x="1071.12" y="123.48" style="font-size:10.00px;" fill="#111">*</text>
<text x="1087.11" y="118.17" style="font-size:10.00px;" fill="#111">*</text>
<text x="1103.10" y="115.52" style="font-size:10.00px;" fill="#111">*</text>
<text x="1119.09" y="113.92" style="font-size:10.00px;" fill="#111">*</text>
<text x="1135.08" y="114.45" style="font-size:10.00px;" fill="#111">*</text>
<text x="1151.07" y="112.86" style="font-size:10.00px;" fill="#111">*</text>
<text x="1167.06" y="107.55" style="font-size:10.00px;" fill="#111">*</text>
<text x="1183.05" y="109.94" style="font-size:10.00px;" fill="#111">*</text>
<text x="1199.04" y="107.55" style="font-size:10.00px;" fill="#111">*</text>
<text x="1215.03" y="94.01" style="font-size:10.00px;" fill="#111">*</text>
<text x="1231.02" y="91.62" style="font-size:10.00px;" fill="#111">*</text>
<text x="1247.01" y="88.70" style="font-size:10.00px;" fill="#111">*</text>
<text x="1263.00" y="88.70" style="font-size:10.00px;" fill="#111">*</text>
<text x="1278.99" y="86.05" style="font-size:10.00px;" fill="#111">*</text>
<text x="1294.98" y="83.13" style="font-size:10.00px;" fill="#111">*</text>
<text x="1310.97" y="83.13" style="font-size:10.00px;" fill="#111">*</text>
<text x="923.03" y="223.97" style="font-size:9.50px;font-style:italic;" fill="#222">*,#</text>
<text x="939.02" y="218.42" style="font-size:9.50px;font-style:italic;" fill="#222">*,#</text>
<text x="955.01" y="216.50" style="font-size:9.50px;font-style:italic;" fill="#222">*,#</text>
<text x="971.00" y="212.61" style="font-size:9.50px;font-style:italic;" fill="#222">*,#</text>
<text x="986.99" y="209.96" style="font-size:9.50px;font-style:italic;" fill="#222">*,#</text>
<text x="1002.98" y="206.34" style="font-size:9.50px;font-style:italic;" fill="#222">*,#</text>
<text x="1018.97" y="204.48" style="font-size:9.50px;font-style:italic;" fill="#222">*,#</text>
<text x="1034.96" y="200.76" style="font-size:9.50px;font-style:italic;" fill="#222">*,#</text>
<text x="1050.95" y="192.96" style="font-size:9.50px;font-style:italic;" fill="#222">*,#</text>
<text x="1066.94" y="191.87" style="font-size:9.50px;font-style:italic;" fill="#222">*,#</text>
<text x="1082.93" y="184.83" style="font-size:9.50px;font-style:italic;" fill="#222">*,#</text>
<text x="1098.92" y="181.11" style="font-size:9.50px;font-style:italic;" fill="#222">*,#</text>
<text x="1114.91" y="180.05" style="font-size:9.50px;font-style:italic;" fill="#222">*,#</text>
<text x="1130.90" y="174.74" style="font-size:9.50px;font-style:italic;" fill="#222">*,#</text>
<text x="1146.89" y="168.90" style="font-size:9.50px;font-style:italic;" fill="#222">*,#</text>
<text x="1162.88" y="166.78" style="font-size:9.50px;font-style:italic;" fill="#222">*,#</text>
<text x="1178.87" y="164.12" style="font-size:9.50px;font-style:italic;" fill="#222">*,#</text>
<text x="1194.86" y="162.53" style="font-size:9.50px;font-style:italic;" fill="#222">*,#</text>
<text x="1210.85" y="161.47" style="font-size:9.50px;font-style:italic;" fill="#222">*,#</text>
<text x="1226.84" y="158.28" style="font-size:9.50px;font-style:italic;" fill="#222">*,#</text>
<text x="1242.83" y="158.28" style="font-size:9.50px;font-style:italic;" fill="#222">*,#</text>
<text x="1258.82" y="156.95" style="font-size:9.50px;font-style:italic;" fill="#222">*,#</text>
<text x="1274.81" y="156.95" style="font-size:9.50px;font-style:italic;" fill="#222">*,#</text>
<text x="1290.80" y="158.28" style="font-size:9.50px;font-style:italic;" fill="#222">*,#</text>
<text x="1306.79" y="158.28" style="font-size:9.50px;font-style:italic;" fill="#222">*,#</text>
<text x="1050.95" y="166.18" style="font-size:9.50px;font-style:italic;" fill="#222">*,#</text>
<text x="1066.94" y="164.39" style="font-size:9.50px;font-style:italic;" fill="#222">*,#</text>
<text x="1082.93" y="139.63" style="font-size:9.50px;font-style:italic;" fill="#222">*,#</text>
<text x="1098.92" y="139.10" style="font-size:9.50px;font-style:italic;" fill="#222">*,#</text>
<text x="1114.91" y="136.18" style="font-size:9.50px;font-style:italic;" fill="#222">*,#</text>
<text x="1130.90" y="133.26" style="font-size:9.50px;font-style:italic;" fill="#222">*,#</text>
<text x="1146.89" y="133.26" style="font-size:9.50px;font-style:italic;" fill="#222">*,#</text>
<text x="1162.88" y="130.60" style="font-size:9.50px;font-style:italic;" fill="#222">*,#</text>
<text x="1178.87" y="147.49" style="font-size:9.50px;font-style:italic;" fill="#222">*,#</text>
<text x="1194.86" y="142.18" style="font-size:9.50px;font-style:italic;" fill="#222">*,#</text>
<text x="1210.85" y="134.22" style="font-size:9.50px;font-style:italic;" fill="#222">*,#</text>
<text x="1226.84" y="131.56" style="font-size:9.50px;font-style:italic;" fill="#222">*,#</text>
<text x="1242.83" y="127.31" style="font-size:9.50px;font-style:italic;" fill="#222">*,#</text>
<text x="1258.82" y="126.25" style="font-size:9.50px;font-style:italic;" fill="#222">*,#</text>
<text x="1274.81" y="121.47" style="font-size:9.50px;font-style:italic;" fill="#222">*,#</text>
<text x="1290.80" y="124.13" style="font-size:9.50px;font-style:italic;" fill="#222">*,#</text>
<text x="1306.79" y="121.47" style="font-size:9.50px;font-style:italic;" fill="#222">*,#</text>
<text x="860.47" y="285.90" style="font-size:17.00px;" fill="#000">0</text>
<text x="972.40" y="285.90" style="font-size:17.00px;" fill="#000">7</text>
<text x="1079.21" y="285.90" style="font-size:17.00px;" fill="#000">14</text>
<text x="1191.52" y="285.90" style="font-size:17.00px;" fill="#000">21</text>
<text x="1302.55" y="285.90" style="font-size:17.00px;" fill="#000">28 (days)</text>
<text transform="translate(821.83 206.31) rotate(-90)" x="0" y="0" style="font-size:20.60px;" fill="#000">Bodyweight (g)</text>
<line x1="883.10" y1="45.80" x2="911.80" y2="45.80" stroke="#7a7a7a" stroke-width="1.00"/>
<circle cx="897.10" cy="45.80" r="2.44" fill="#fff" stroke="#000" stroke-width="1.24"/>
<text x="927.93" y="52.30" style="font-size:16.30px;" fill="#000">WT</text>
<line x1="883.10" y1="67.90" x2="911.80" y2="67.90" stroke="#7a7a7a" stroke-width="1.00"/>
<circle cx="897.10" cy="67.90" r="2.99" fill="#000" stroke="none" stroke-width="0.00"/>
<text x="927.93" y="74.40" style="font-size:16.30px;" fill="#000">Vehicle</text>
<line x1="883.10" y1="90.00" x2="911.80" y2="90.00" stroke="#7a7a7a" stroke-width="1.00"/>
<path d="M897.10 86.41 L900.23 92.20 L893.97 92.20 Z" fill="#000"/>
<text x="926.66" y="96.50" style="font-size:16.30px;" fill="#000">LMED</text>
<line x1="883.10" y1="112.10" x2="911.80" y2="112.10" stroke="#7a7a7a" stroke-width="1.00"/>
<rect x="894.16" y="109.16" width="5.89" height="5.89" fill="#000" stroke="none" stroke-width="0.00"/>
<text x="926.66" y="118.60" style="font-size:16.30px;" fill="#000">HMED</text>
<line x1="984.10" y1="60.10" x2="984.10" y2="123.40" stroke="#333" stroke-width="1.10"/>
<text transform="translate(1003.96 120.41) rotate(-90)" style="font-size:16.99px"><tspan style="font-style:italic">Lep</tspan> KO</text>
<line x1="865.30" y1="407.80" x2="865.30" y2="620.00" stroke="#000" stroke-width="1.50"/>
<line x1="864.60" y1="619.30" x2="1313.62" y2="619.30" stroke="#000" stroke-width="1.50"/>
<line x1="858.00" y1="619.30" x2="865.30" y2="619.30" stroke="#000" stroke-width="1.50"/>
<line x1="858.00" y1="548.85" x2="865.30" y2="548.85" stroke="#000" stroke-width="1.50"/>
<line x1="858.00" y1="478.40" x2="865.30" y2="478.40" stroke="#000" stroke-width="1.50"/>
<line x1="858.00" y1="407.95" x2="865.30" y2="407.95" stroke="#000" stroke-width="1.50"/>
<line x1="861.00" y1="584.07" x2="865.30" y2="584.07" stroke="#000" stroke-width="1.50"/>
<line x1="861.00" y1="513.62" x2="865.30" y2="513.62" stroke="#000" stroke-width="1.50"/>
<line x1="861.00" y1="443.17" x2="865.30" y2="443.17" stroke="#000" stroke-width="1.50"/>
<line x1="865.20" y1="619.30" x2="865.20" y2="626.30" stroke="#000" stroke-width="1.50"/>
<line x1="881.19" y1="619.30" x2="881.19" y2="623.70" stroke="#000" stroke-width="1.50"/>
<line x1="897.18" y1="619.30" x2="897.18" y2="623.70" stroke="#000" stroke-width="1.50"/>
<line x1="913.17" y1="619.30" x2="913.17" y2="623.70" stroke="#000" stroke-width="1.50"/>
<line x1="929.16" y1="619.30" x2="929.16" y2="623.70" stroke="#000" stroke-width="1.50"/>
<line x1="945.15" y1="619.30" x2="945.15" y2="623.70" stroke="#000" stroke-width="1.50"/>
<line x1="961.14" y1="619.30" x2="961.14" y2="623.70" stroke="#000" stroke-width="1.50"/>
<line x1="977.13" y1="619.30" x2="977.13" y2="626.30" stroke="#000" stroke-width="1.50"/>
<line x1="993.12" y1="619.30" x2="993.12" y2="623.70" stroke="#000" stroke-width="1.50"/>
<line x1="1009.11" y1="619.30" x2="1009.11" y2="623.70" stroke="#000" stroke-width="1.50"/>
<line x1="1025.10" y1="619.30" x2="1025.10" y2="623.70" stroke="#000" stroke-width="1.50"/>
<line x1="1041.09" y1="619.30" x2="1041.09" y2="623.70" stroke="#000" stroke-width="1.50"/>
<line x1="1057.08" y1="619.30" x2="1057.08" y2="623.70" stroke="#000" stroke-width="1.50"/>
<line x1="1073.07" y1="619.30" x2="1073.07" y2="623.70" stroke="#000" stroke-width="1.50"/>
<line x1="1089.06" y1="619.30" x2="1089.06" y2="626.30" stroke="#000" stroke-width="1.50"/>
<line x1="1105.05" y1="619.30" x2="1105.05" y2="623.70" stroke="#000" stroke-width="1.50"/>
<line x1="1121.04" y1="619.30" x2="1121.04" y2="623.70" stroke="#000" stroke-width="1.50"/>
<line x1="1137.03" y1="619.30" x2="1137.03" y2="623.70" stroke="#000" stroke-width="1.50"/>
<line x1="1153.02" y1="619.30" x2="1153.02" y2="623.70" stroke="#000" stroke-width="1.50"/>
<line x1="1169.01" y1="619.30" x2="1169.01" y2="623.70" stroke="#000" stroke-width="1.50"/>
<line x1="1185.00" y1="619.30" x2="1185.00" y2="623.70" stroke="#000" stroke-width="1.50"/>
<line x1="1200.99" y1="619.30" x2="1200.99" y2="626.30" stroke="#000" stroke-width="1.50"/>
<line x1="1216.98" y1="619.30" x2="1216.98" y2="623.70" stroke="#000" stroke-width="1.50"/>
<line x1="1232.97" y1="619.30" x2="1232.97" y2="623.70" stroke="#000" stroke-width="1.50"/>
<line x1="1248.96" y1="619.30" x2="1248.96" y2="623.70" stroke="#000" stroke-width="1.50"/>
<line x1="1264.95" y1="619.30" x2="1264.95" y2="623.70" stroke="#000" stroke-width="1.50"/>
<line x1="1280.94" y1="619.30" x2="1280.94" y2="623.70" stroke="#000" stroke-width="1.50"/>
<line x1="1296.93" y1="619.30" x2="1296.93" y2="623.70" stroke="#000" stroke-width="1.50"/>
<line x1="1312.92" y1="619.30" x2="1312.92" y2="626.30" stroke="#000" stroke-width="1.50"/>
<text x="845.79" y="625.30" style="font-size:17.00px;" fill="#000">0</text>
<text x="845.85" y="554.85" style="font-size:17.00px;" fill="#000">5</text>
<text x="836.34" y="484.40" style="font-size:17.00px;" fill="#000">10</text>
<text x="836.39" y="413.95" style="font-size:17.00px;" fill="#000">15</text>
<polyline points="881.19,583.51 897.18,582.81 913.17,578.72 929.16,575.62 945.15,584.22 961.14,576.75 977.13,574.49 993.12,564.35 1009.11,577.03 1025.10,566.74 1041.09,566.74 1057.08,563.50 1073.07,573.51 1089.06,563.50 1105.05,576.61 1121.04,572.52 1137.03,548.99 1153.02,554.20 1169.01,558.01 1185.00,553.92 1200.99,566.32 1216.98,553.64 1232.97,553.64 1248.96,553.64 1264.95,553.64 1280.94,553.64 1296.93,553.64 1312.92,557.73" fill="none" stroke="#000" stroke-width="1.00"/>
<line x1="881.19" y1="580.51" x2="881.19" y2="586.51" stroke="#222" stroke-width="1.00"/>
<line x1="878.79" y1="580.51" x2="883.59" y2="580.51" stroke="#222" stroke-width="1.00"/>
<line x1="878.79" y1="586.51" x2="883.59" y2="586.51" stroke="#222" stroke-width="1.00"/>
<line x1="897.18" y1="579.81" x2="897.18" y2="585.81" stroke="#222" stroke-width="1.00"/>
<line x1="894.78" y1="579.81" x2="899.58" y2="579.81" stroke="#222" stroke-width="1.00"/>
<line x1="894.78" y1="585.81" x2="899.58" y2="585.81" stroke="#222" stroke-width="1.00"/>
<line x1="913.17" y1="575.72" x2="913.17" y2="581.72" stroke="#222" stroke-width="1.00"/>
<line x1="910.77" y1="575.72" x2="915.57" y2="575.72" stroke="#222" stroke-width="1.00"/>
<line x1="910.77" y1="581.72" x2="915.57" y2="581.72" stroke="#222" stroke-width="1.00"/>
<line x1="929.16" y1="568.02" x2="929.16" y2="583.22" stroke="#222" stroke-width="1.00"/>
<line x1="926.76" y1="568.02" x2="931.56" y2="568.02" stroke="#222" stroke-width="1.00"/>
<line x1="926.76" y1="583.22" x2="931.56" y2="583.22" stroke="#222" stroke-width="1.00"/>
<line x1="945.15" y1="581.22" x2="945.15" y2="587.22" stroke="#222" stroke-width="1.00"/>
<line x1="942.75" y1="581.22" x2="947.55" y2="581.22" stroke="#222" stroke-width="1.00"/>
<line x1="942.75" y1="587.22" x2="947.55" y2="587.22" stroke="#222" stroke-width="1.00"/>
<line x1="961.14" y1="573.75" x2="961.14" y2="579.75" stroke="#222" stroke-width="1.00"/>
<line x1="958.74" y1="573.75" x2="963.54" y2="573.75" stroke="#222" stroke-width="1.00"/>
<line x1="958.74" y1="579.75" x2="963.54" y2="579.75" stroke="#222" stroke-width="1.00"/>
<line x1="977.13" y1="571.49" x2="977.13" y2="577.49" stroke="#222" stroke-width="1.00"/>
<line x1="974.73" y1="571.49" x2="979.53" y2="571.49" stroke="#222" stroke-width="1.00"/>
<line x1="974.73" y1="577.49" x2="979.53" y2="577.49" stroke="#222" stroke-width="1.00"/>
<line x1="993.12" y1="561.35" x2="993.12" y2="567.35" stroke="#222" stroke-width="1.00"/>
<line x1="990.72" y1="561.35" x2="995.52" y2="561.35" stroke="#222" stroke-width="1.00"/>
<line x1="990.72" y1="567.35" x2="995.52" y2="567.35" stroke="#222" stroke-width="1.00"/>
<line x1="1009.11" y1="573.03" x2="1009.11" y2="581.03" stroke="#222" stroke-width="1.00"/>
<line x1="1006.71" y1="573.03" x2="1011.51" y2="573.03" stroke="#222" stroke-width="1.00"/>
<line x1="1006.71" y1="581.03" x2="1011.51" y2="581.03" stroke="#222" stroke-width="1.00"/>
<line x1="1025.10" y1="563.74" x2="1025.10" y2="569.74" stroke="#222" stroke-width="1.00"/>
<line x1="1022.70" y1="563.74" x2="1027.50" y2="563.74" stroke="#222" stroke-width="1.00"/>
<line x1="1022.70" y1="569.74" x2="1027.50" y2="569.74" stroke="#222" stroke-width="1.00"/>
<line x1="1041.09" y1="563.74" x2="1041.09" y2="569.74" stroke="#222" stroke-width="1.00"/>
<line x1="1038.69" y1="563.74" x2="1043.49" y2="563.74" stroke="#222" stroke-width="1.00"/>
<line x1="1038.69" y1="569.74" x2="1043.49" y2="569.74" stroke="#222" stroke-width="1.00"/>
<line x1="1057.08" y1="560.50" x2="1057.08" y2="566.50" stroke="#222" stroke-width="1.00"/>
<line x1="1054.68" y1="560.50" x2="1059.48" y2="560.50" stroke="#222" stroke-width="1.00"/>
<line x1="1054.68" y1="566.50" x2="1059.48" y2="566.50" stroke="#222" stroke-width="1.00"/>
<line x1="1073.07" y1="569.01" x2="1073.07" y2="578.01" stroke="#222" stroke-width="1.00"/>
<line x1="1070.67" y1="569.01" x2="1075.47" y2="569.01" stroke="#222" stroke-width="1.00"/>
<line x1="1070.67" y1="578.01" x2="1075.47" y2="578.01" stroke="#222" stroke-width="1.00"/>
<line x1="1089.06" y1="560.50" x2="1089.06" y2="566.50" stroke="#222" stroke-width="1.00"/>
<line x1="1086.66" y1="560.50" x2="1091.46" y2="560.50" stroke="#222" stroke-width="1.00"/>
<line x1="1086.66" y1="566.50" x2="1091.46" y2="566.50" stroke="#222" stroke-width="1.00"/>
<line x1="1105.05" y1="572.61" x2="1105.05" y2="580.61" stroke="#222" stroke-width="1.00"/>
<line x1="1102.65" y1="572.61" x2="1107.45" y2="572.61" stroke="#222" stroke-width="1.00"/>
<line x1="1102.65" y1="580.61" x2="1107.45" y2="580.61" stroke="#222" stroke-width="1.00"/>
<line x1="1121.04" y1="569.52" x2="1121.04" y2="575.52" stroke="#222" stroke-width="1.00"/>
<line x1="1118.64" y1="569.52" x2="1123.44" y2="569.52" stroke="#222" stroke-width="1.00"/>
<line x1="1118.64" y1="575.52" x2="1123.44" y2="575.52" stroke="#222" stroke-width="1.00"/>
<line x1="1137.03" y1="545.99" x2="1137.03" y2="551.99" stroke="#222" stroke-width="1.00"/>
<line x1="1134.63" y1="545.99" x2="1139.43" y2="545.99" stroke="#222" stroke-width="1.00"/>
<line x1="1134.63" y1="551.99" x2="1139.43" y2="551.99" stroke="#222" stroke-width="1.00"/>
<line x1="1153.02" y1="551.20" x2="1153.02" y2="557.20" stroke="#222" stroke-width="1.00"/>
<line x1="1150.62" y1="551.20" x2="1155.42" y2="551.20" stroke="#222" stroke-width="1.00"/>
<line x1="1150.62" y1="557.20" x2="1155.42" y2="557.20" stroke="#222" stroke-width="1.00"/>
<line x1="1169.01" y1="555.01" x2="1169.01" y2="561.01" stroke="#222" stroke-width="1.00"/>
<line x1="1166.61" y1="555.01" x2="1171.41" y2="555.01" stroke="#222" stroke-width="1.00"/>
<line x1="1166.61" y1="561.01" x2="1171.41" y2="561.01" stroke="#222" stroke-width="1.00"/>
<line x1="1185.00" y1="550.92" x2="1185.00" y2="556.92" stroke="#222" stroke-width="1.00"/>
<line x1="1182.60" y1="550.92" x2="1187.40" y2="550.92" stroke="#222" stroke-width="1.00"/>
<line x1="1182.60" y1="556.92" x2="1187.40" y2="556.92" stroke="#222" stroke-width="1.00"/>
<line x1="1200.99" y1="563.32" x2="1200.99" y2="569.32" stroke="#222" stroke-width="1.00"/>
<line x1="1198.59" y1="563.32" x2="1203.39" y2="563.32" stroke="#222" stroke-width="1.00"/>
<line x1="1198.59" y1="569.32" x2="1203.39" y2="569.32" stroke="#222" stroke-width="1.00"/>
<line x1="1216.98" y1="550.64" x2="1216.98" y2="556.64" stroke="#222" stroke-width="1.00"/>
<line x1="1214.58" y1="550.64" x2="1219.38" y2="550.64" stroke="#222" stroke-width="1.00"/>
<line x1="1214.58" y1="556.64" x2="1219.38" y2="556.64" stroke="#222" stroke-width="1.00"/>
<line x1="1232.97" y1="550.64" x2="1232.97" y2="556.64" stroke="#222" stroke-width="1.00"/>
<line x1="1230.57" y1="550.64" x2="1235.37" y2="550.64" stroke="#222" stroke-width="1.00"/>
<line x1="1230.57" y1="556.64" x2="1235.37" y2="556.64" stroke="#222" stroke-width="1.00"/>
<line x1="1248.96" y1="550.64" x2="1248.96" y2="556.64" stroke="#222" stroke-width="1.00"/>
<line x1="1246.56" y1="550.64" x2="1251.36" y2="550.64" stroke="#222" stroke-width="1.00"/>
<line x1="1246.56" y1="556.64" x2="1251.36" y2="556.64" stroke="#222" stroke-width="1.00"/>
<line x1="1264.95" y1="550.64" x2="1264.95" y2="556.64" stroke="#222" stroke-width="1.00"/>
<line x1="1262.55" y1="550.64" x2="1267.35" y2="550.64" stroke="#222" stroke-width="1.00"/>
<line x1="1262.55" y1="556.64" x2="1267.35" y2="556.64" stroke="#222" stroke-width="1.00"/>
<line x1="1280.94" y1="550.64" x2="1280.94" y2="556.64" stroke="#222" stroke-width="1.00"/>
<line x1="1278.54" y1="550.64" x2="1283.34" y2="550.64" stroke="#222" stroke-width="1.00"/>
<line x1="1278.54" y1="556.64" x2="1283.34" y2="556.64" stroke="#222" stroke-width="1.00"/>
<line x1="1296.93" y1="550.64" x2="1296.93" y2="556.64" stroke="#222" stroke-width="1.00"/>
<line x1="1294.53" y1="550.64" x2="1299.33" y2="550.64" stroke="#222" stroke-width="1.00"/>
<line x1="1294.53" y1="556.64" x2="1299.33" y2="556.64" stroke="#222" stroke-width="1.00"/>
<line x1="1312.92" y1="550.23" x2="1312.92" y2="565.23" stroke="#222" stroke-width="1.00"/>
<line x1="1310.52" y1="550.23" x2="1315.32" y2="550.23" stroke="#222" stroke-width="1.00"/>
<line x1="1310.52" y1="565.23" x2="1315.32" y2="565.23" stroke="#222" stroke-width="1.00"/>
<polyline points="881.19,570.41 897.18,577.03 913.17,573.79 929.16,557.30 945.15,571.53 961.14,571.53 977.13,575.20 993.12,559.28 1009.11,570.13 1025.10,567.03 1041.09,570.13 1057.08,541.80 1073.07,541.80 1089.06,544.90 1105.05,570.13 1121.04,577.17 1137.03,573.37 1153.02,557.59 1169.01,571.96 1185.00,571.96 1200.99,574.78 1216.98,558.71 1232.97,569.56 1248.96,566.18 1264.95,569.56 1280.94,541.38 1296.93,541.38 1312.92,545.19" fill="none" stroke="#000" stroke-width="1.00"/>
<line x1="881.19" y1="567.21" x2="881.19" y2="573.61" stroke="#222" stroke-width="1.00"/>
<line x1="878.79" y1="567.21" x2="883.59" y2="567.21" stroke="#222" stroke-width="1.00"/>
<line x1="878.79" y1="573.61" x2="883.59" y2="573.61" stroke="#222" stroke-width="1.00"/>
<line x1="897.18" y1="573.83" x2="897.18" y2="580.23" stroke="#222" stroke-width="1.00"/>
<line x1="894.78" y1="573.83" x2="899.58" y2="573.83" stroke="#222" stroke-width="1.00"/>
<line x1="894.78" y1="580.23" x2="899.58" y2="580.23" stroke="#222" stroke-width="1.00"/>
<line x1="913.17" y1="570.59" x2="913.17" y2="576.99" stroke="#222" stroke-width="1.00"/>
<line x1="910.77" y1="570.59" x2="915.57" y2="570.59" stroke="#222" stroke-width="1.00"/>
<line x1="910.77" y1="576.99" x2="915.57" y2="576.99" stroke="#222" stroke-width="1.00"/>
<line x1="929.16" y1="551.90" x2="929.16" y2="562.70" stroke="#222" stroke-width="1.00"/>
<line x1="926.76" y1="551.90" x2="931.56" y2="551.90" stroke="#222" stroke-width="1.00"/>
<line x1="926.76" y1="562.70" x2="931.56" y2="562.70" stroke="#222" stroke-width="1.00"/>
<line x1="945.15" y1="568.33" x2="945.15" y2="574.73" stroke="#222" stroke-width="1.00"/>
<line x1="942.75" y1="568.33" x2="947.55" y2="568.33" stroke="#222" stroke-width="1.00"/>
<line x1="942.75" y1="574.73" x2="947.55" y2="574.73" stroke="#222" stroke-width="1.00"/>
<line x1="961.14" y1="568.33" x2="961.14" y2="574.73" stroke="#222" stroke-width="1.00"/>
<line x1="958.74" y1="568.33" x2="963.54" y2="568.33" stroke="#222" stroke-width="1.00"/>
<line x1="958.74" y1="574.73" x2="963.54" y2="574.73" stroke="#222" stroke-width="1.00"/>
<line x1="977.13" y1="572.00" x2="977.13" y2="578.40" stroke="#222" stroke-width="1.00"/>
<line x1="974.73" y1="572.00" x2="979.53" y2="572.00" stroke="#222" stroke-width="1.00"/>
<line x1="974.73" y1="578.40" x2="979.53" y2="578.40" stroke="#222" stroke-width="1.00"/>
<line x1="993.12" y1="556.08" x2="993.12" y2="562.48" stroke="#222" stroke-width="1.00"/>
<line x1="990.72" y1="556.08" x2="995.52" y2="556.08" stroke="#222" stroke-width="1.00"/>
<line x1="990.72" y1="562.48" x2="995.52" y2="562.48" stroke="#222" stroke-width="1.00"/>
<line x1="1009.11" y1="566.93" x2="1009.11" y2="573.33" stroke="#222" stroke-width="1.00"/>
<line x1="1006.71" y1="566.93" x2="1011.51" y2="566.93" stroke="#222" stroke-width="1.00"/>
<line x1="1006.71" y1="573.33" x2="1011.51" y2="573.33" stroke="#222" stroke-width="1.00"/>
<line x1="1025.10" y1="563.83" x2="1025.10" y2="570.23" stroke="#222" stroke-width="1.00"/>
<line x1="1022.70" y1="563.83" x2="1027.50" y2="563.83" stroke="#222" stroke-width="1.00"/>
<line x1="1022.70" y1="570.23" x2="1027.50" y2="570.23" stroke="#222" stroke-width="1.00"/>
<line x1="1041.09" y1="566.93" x2="1041.09" y2="573.33" stroke="#222" stroke-width="1.00"/>
<line x1="1038.69" y1="566.93" x2="1043.49" y2="566.93" stroke="#222" stroke-width="1.00"/>
<line x1="1038.69" y1="573.33" x2="1043.49" y2="573.33" stroke="#222" stroke-width="1.00"/>
<line x1="1057.08" y1="538.60" x2="1057.08" y2="545.00" stroke="#222" stroke-width="1.00"/>
<line x1="1054.68" y1="538.60" x2="1059.48" y2="538.60" stroke="#222" stroke-width="1.00"/>
<line x1="1054.68" y1="545.00" x2="1059.48" y2="545.00" stroke="#222" stroke-width="1.00"/>
<line x1="1073.07" y1="537.30" x2="1073.07" y2="546.30" stroke="#222" stroke-width="1.00"/>
<line x1="1070.67" y1="537.30" x2="1075.47" y2="537.30" stroke="#222" stroke-width="1.00"/>
<line x1="1070.67" y1="546.30" x2="1075.47" y2="546.30" stroke="#222" stroke-width="1.00"/>
<line x1="1089.06" y1="541.70" x2="1089.06" y2="548.10" stroke="#222" stroke-width="1.00"/>
<line x1="1086.66" y1="541.70" x2="1091.46" y2="541.70" stroke="#222" stroke-width="1.00"/>
<line x1="1086.66" y1="548.10" x2="1091.46" y2="548.10" stroke="#222" stroke-width="1.00"/>
<line x1="1105.05" y1="566.93" x2="1105.05" y2="573.33" stroke="#222" stroke-width="1.00"/>
<line x1="1102.65" y1="566.93" x2="1107.45" y2="566.93" stroke="#222" stroke-width="1.00"/>
<line x1="1102.65" y1="573.33" x2="1107.45" y2="573.33" stroke="#222" stroke-width="1.00"/>
<line x1="1121.04" y1="573.97" x2="1121.04" y2="580.37" stroke="#222" stroke-width="1.00"/>
<line x1="1118.64" y1="573.97" x2="1123.44" y2="573.97" stroke="#222" stroke-width="1.00"/>
<line x1="1118.64" y1="580.37" x2="1123.44" y2="580.37" stroke="#222" stroke-width="1.00"/>
<line x1="1137.03" y1="570.17" x2="1137.03" y2="576.57" stroke="#222" stroke-width="1.00"/>
<line x1="1134.63" y1="570.17" x2="1139.43" y2="570.17" stroke="#222" stroke-width="1.00"/>
<line x1="1134.63" y1="576.57" x2="1139.43" y2="576.57" stroke="#222" stroke-width="1.00"/>
<line x1="1153.02" y1="554.39" x2="1153.02" y2="560.79" stroke="#222" stroke-width="1.00"/>
<line x1="1150.62" y1="554.39" x2="1155.42" y2="554.39" stroke="#222" stroke-width="1.00"/>
<line x1="1150.62" y1="560.79" x2="1155.42" y2="560.79" stroke="#222" stroke-width="1.00"/>
<line x1="1169.01" y1="568.76" x2="1169.01" y2="575.16" stroke="#222" stroke-width="1.00"/>
<line x1="1166.61" y1="568.76" x2="1171.41" y2="568.76" stroke="#222" stroke-width="1.00"/>
<line x1="1166.61" y1="575.16" x2="1171.41" y2="575.16" stroke="#222" stroke-width="1.00"/>
<line x1="1185.00" y1="568.76" x2="1185.00" y2="575.16" stroke="#222" stroke-width="1.00"/>
<line x1="1182.60" y1="568.76" x2="1187.40" y2="568.76" stroke="#222" stroke-width="1.00"/>
<line x1="1182.60" y1="575.16" x2="1187.40" y2="575.16" stroke="#222" stroke-width="1.00"/>
<line x1="1200.99" y1="571.58" x2="1200.99" y2="577.98" stroke="#222" stroke-width="1.00"/>
<line x1="1198.59" y1="571.58" x2="1203.39" y2="571.58" stroke="#222" stroke-width="1.00"/>
<line x1="1198.59" y1="577.98" x2="1203.39" y2="577.98" stroke="#222" stroke-width="1.00"/>
<line x1="1216.98" y1="555.51" x2="1216.98" y2="561.91" stroke="#222" stroke-width="1.00"/>
<line x1="1214.58" y1="555.51" x2="1219.38" y2="555.51" stroke="#222" stroke-width="1.00"/>
<line x1="1214.58" y1="561.91" x2="1219.38" y2="561.91" stroke="#222" stroke-width="1.00"/>
<line x1="1232.97" y1="566.36" x2="1232.97" y2="572.76" stroke="#222" stroke-width="1.00"/>
<line x1="1230.57" y1="566.36" x2="1235.37" y2="566.36" stroke="#222" stroke-width="1.00"/>
<line x1="1230.57" y1="572.76" x2="1235.37" y2="572.76" stroke="#222" stroke-width="1.00"/>
<line x1="1248.96" y1="562.98" x2="1248.96" y2="569.38" stroke="#222" stroke-width="1.00"/>
<line x1="1246.56" y1="562.98" x2="1251.36" y2="562.98" stroke="#222" stroke-width="1.00"/>
<line x1="1246.56" y1="569.38" x2="1251.36" y2="569.38" stroke="#222" stroke-width="1.00"/>
<line x1="1264.95" y1="566.36" x2="1264.95" y2="572.76" stroke="#222" stroke-width="1.00"/>
<line x1="1262.55" y1="566.36" x2="1267.35" y2="566.36" stroke="#222" stroke-width="1.00"/>
<line x1="1262.55" y1="572.76" x2="1267.35" y2="572.76" stroke="#222" stroke-width="1.00"/>
<line x1="1280.94" y1="538.18" x2="1280.94" y2="544.58" stroke="#222" stroke-width="1.00"/>
<line x1="1278.54" y1="538.18" x2="1283.34" y2="538.18" stroke="#222" stroke-width="1.00"/>
<line x1="1278.54" y1="544.58" x2="1283.34" y2="544.58" stroke="#222" stroke-width="1.00"/>
<line x1="1296.93" y1="538.18" x2="1296.93" y2="544.58" stroke="#222" stroke-width="1.00"/>
<line x1="1294.53" y1="538.18" x2="1299.33" y2="538.18" stroke="#222" stroke-width="1.00"/>
<line x1="1294.53" y1="544.58" x2="1299.33" y2="544.58" stroke="#222" stroke-width="1.00"/>
<line x1="1312.92" y1="541.99" x2="1312.92" y2="548.39" stroke="#222" stroke-width="1.00"/>
<line x1="1310.52" y1="541.99" x2="1315.32" y2="541.99" stroke="#222" stroke-width="1.00"/>
<line x1="1310.52" y1="548.39" x2="1315.32" y2="548.39" stroke="#222" stroke-width="1.00"/>
<polyline points="881.19,559.70 897.18,559.70 913.17,568.58 929.16,557.02 945.15,543.21 961.14,549.55 977.13,527.71 993.12,539.97 1009.11,567.17 1025.10,548.99 1041.09,555.61 1057.08,541.80 1073.07,563.50 1089.06,548.99 1105.05,558.99 1121.04,558.99 1137.03,568.86 1153.02,554.20 1169.01,542.37 1185.00,548.85 1200.99,527.43 1216.98,540.11 1232.97,535.04 1248.96,535.04 1264.95,535.04 1280.94,527.71 1296.93,520.53 1312.92,527.01" fill="none" stroke="#000" stroke-width="1.00"/>
<line x1="881.19" y1="556.10" x2="881.19" y2="563.30" stroke="#222" stroke-width="1.00"/>
<line x1="878.79" y1="556.10" x2="883.59" y2="556.10" stroke="#222" stroke-width="1.00"/>
<line x1="878.79" y1="563.30" x2="883.59" y2="563.30" stroke="#222" stroke-width="1.00"/>
<line x1="897.18" y1="556.10" x2="897.18" y2="563.30" stroke="#222" stroke-width="1.00"/>
<line x1="894.78" y1="556.10" x2="899.58" y2="556.10" stroke="#222" stroke-width="1.00"/>
<line x1="894.78" y1="563.30" x2="899.58" y2="563.30" stroke="#222" stroke-width="1.00"/>
<line x1="913.17" y1="564.98" x2="913.17" y2="572.18" stroke="#222" stroke-width="1.00"/>
<line x1="910.77" y1="564.98" x2="915.57" y2="564.98" stroke="#222" stroke-width="1.00"/>
<line x1="910.77" y1="572.18" x2="915.57" y2="572.18" stroke="#222" stroke-width="1.00"/>
<line x1="929.16" y1="551.62" x2="929.16" y2="562.42" stroke="#222" stroke-width="1.00"/>
<line x1="926.76" y1="551.62" x2="931.56" y2="551.62" stroke="#222" stroke-width="1.00"/>
<line x1="926.76" y1="562.42" x2="931.56" y2="562.42" stroke="#222" stroke-width="1.00"/>
<line x1="945.15" y1="539.61" x2="945.15" y2="546.81" stroke="#222" stroke-width="1.00"/>
<line x1="942.75" y1="539.61" x2="947.55" y2="539.61" stroke="#222" stroke-width="1.00"/>
<line x1="942.75" y1="546.81" x2="947.55" y2="546.81" stroke="#222" stroke-width="1.00"/>
<line x1="961.14" y1="545.95" x2="961.14" y2="553.15" stroke="#222" stroke-width="1.00"/>
<line x1="958.74" y1="545.95" x2="963.54" y2="545.95" stroke="#222" stroke-width="1.00"/>
<line x1="958.74" y1="553.15" x2="963.54" y2="553.15" stroke="#222" stroke-width="1.00"/>
<line x1="977.13" y1="524.11" x2="977.13" y2="531.31" stroke="#222" stroke-width="1.00"/>
<line x1="974.73" y1="524.11" x2="979.53" y2="524.11" stroke="#222" stroke-width="1.00"/>
<line x1="974.73" y1="531.31" x2="979.53" y2="531.31" stroke="#222" stroke-width="1.00"/>
<line x1="993.12" y1="536.37" x2="993.12" y2="543.57" stroke="#222" stroke-width="1.00"/>
<line x1="990.72" y1="536.37" x2="995.52" y2="536.37" stroke="#222" stroke-width="1.00"/>
<line x1="990.72" y1="543.57" x2="995.52" y2="543.57" stroke="#222" stroke-width="1.00"/>
<line x1="1009.11" y1="563.57" x2="1009.11" y2="570.77" stroke="#222" stroke-width="1.00"/>
<line x1="1006.71" y1="563.57" x2="1011.51" y2="563.57" stroke="#222" stroke-width="1.00"/>
<line x1="1006.71" y1="570.77" x2="1011.51" y2="570.77" stroke="#222" stroke-width="1.00"/>
<line x1="1025.10" y1="545.39" x2="1025.10" y2="552.59" stroke="#222" stroke-width="1.00"/>
<line x1="1022.70" y1="545.39" x2="1027.50" y2="545.39" stroke="#222" stroke-width="1.00"/>
<line x1="1022.70" y1="552.59" x2="1027.50" y2="552.59" stroke="#222" stroke-width="1.00"/>
<line x1="1041.09" y1="552.01" x2="1041.09" y2="559.21" stroke="#222" stroke-width="1.00"/>
<line x1="1038.69" y1="552.01" x2="1043.49" y2="552.01" stroke="#222" stroke-width="1.00"/>
<line x1="1038.69" y1="559.21" x2="1043.49" y2="559.21" stroke="#222" stroke-width="1.00"/>
<line x1="1057.08" y1="538.20" x2="1057.08" y2="545.40" stroke="#222" stroke-width="1.00"/>
<line x1="1054.68" y1="538.20" x2="1059.48" y2="538.20" stroke="#222" stroke-width="1.00"/>
<line x1="1054.68" y1="545.40" x2="1059.48" y2="545.40" stroke="#222" stroke-width="1.00"/>
<line x1="1073.07" y1="558.50" x2="1073.07" y2="568.50" stroke="#222" stroke-width="1.00"/>
<line x1="1070.67" y1="558.50" x2="1075.47" y2="558.50" stroke="#222" stroke-width="1.00"/>
<line x1="1070.67" y1="568.50" x2="1075.47" y2="568.50" stroke="#222" stroke-width="1.00"/>
<line x1="1089.06" y1="545.39" x2="1089.06" y2="552.59" stroke="#222" stroke-width="1.00"/>
<line x1="1086.66" y1="545.39" x2="1091.46" y2="545.39" stroke="#222" stroke-width="1.00"/>
<line x1="1086.66" y1="552.59" x2="1091.46" y2="552.59" stroke="#222" stroke-width="1.00"/>
<line x1="1105.05" y1="555.39" x2="1105.05" y2="562.59" stroke="#222" stroke-width="1.00"/>
<line x1="1102.65" y1="555.39" x2="1107.45" y2="555.39" stroke="#222" stroke-width="1.00"/>
<line x1="1102.65" y1="562.59" x2="1107.45" y2="562.59" stroke="#222" stroke-width="1.00"/>
<line x1="1121.04" y1="555.39" x2="1121.04" y2="562.59" stroke="#222" stroke-width="1.00"/>
<line x1="1118.64" y1="555.39" x2="1123.44" y2="555.39" stroke="#222" stroke-width="1.00"/>
<line x1="1118.64" y1="562.59" x2="1123.44" y2="562.59" stroke="#222" stroke-width="1.00"/>
<line x1="1137.03" y1="565.26" x2="1137.03" y2="572.46" stroke="#222" stroke-width="1.00"/>
<line x1="1134.63" y1="565.26" x2="1139.43" y2="565.26" stroke="#222" stroke-width="1.00"/>
<line x1="1134.63" y1="572.46" x2="1139.43" y2="572.46" stroke="#222" stroke-width="1.00"/>
<line x1="1153.02" y1="550.60" x2="1153.02" y2="557.80" stroke="#222" stroke-width="1.00"/>
<line x1="1150.62" y1="550.60" x2="1155.42" y2="550.60" stroke="#222" stroke-width="1.00"/>
<line x1="1150.62" y1="557.80" x2="1155.42" y2="557.80" stroke="#222" stroke-width="1.00"/>
<line x1="1169.01" y1="538.77" x2="1169.01" y2="545.97" stroke="#222" stroke-width="1.00"/>
<line x1="1166.61" y1="538.77" x2="1171.41" y2="538.77" stroke="#222" stroke-width="1.00"/>
<line x1="1166.61" y1="545.97" x2="1171.41" y2="545.97" stroke="#222" stroke-width="1.00"/>
<line x1="1185.00" y1="545.25" x2="1185.00" y2="552.45" stroke="#222" stroke-width="1.00"/>
<line x1="1182.60" y1="545.25" x2="1187.40" y2="545.25" stroke="#222" stroke-width="1.00"/>
<line x1="1182.60" y1="552.45" x2="1187.40" y2="552.45" stroke="#222" stroke-width="1.00"/>
<line x1="1200.99" y1="521.23" x2="1200.99" y2="533.63" stroke="#222" stroke-width="1.00"/>
<line x1="1198.59" y1="521.23" x2="1203.39" y2="521.23" stroke="#222" stroke-width="1.00"/>
<line x1="1198.59" y1="533.63" x2="1203.39" y2="533.63" stroke="#222" stroke-width="1.00"/>
<line x1="1216.98" y1="536.51" x2="1216.98" y2="543.71" stroke="#222" stroke-width="1.00"/>
<line x1="1214.58" y1="536.51" x2="1219.38" y2="536.51" stroke="#222" stroke-width="1.00"/>
<line x1="1214.58" y1="543.71" x2="1219.38" y2="543.71" stroke="#222" stroke-width="1.00"/>
<line x1="1232.97" y1="531.44" x2="1232.97" y2="538.64" stroke="#222" stroke-width="1.00"/>
<line x1="1230.57" y1="531.44" x2="1235.37" y2="531.44" stroke="#222" stroke-width="1.00"/>
<line x1="1230.57" y1="538.64" x2="1235.37" y2="538.64" stroke="#222" stroke-width="1.00"/>
<line x1="1248.96" y1="531.44" x2="1248.96" y2="538.64" stroke="#222" stroke-width="1.00"/>
<line x1="1246.56" y1="531.44" x2="1251.36" y2="531.44" stroke="#222" stroke-width="1.00"/>
<line x1="1246.56" y1="538.64" x2="1251.36" y2="538.64" stroke="#222" stroke-width="1.00"/>
<line x1="1264.95" y1="531.44" x2="1264.95" y2="538.64" stroke="#222" stroke-width="1.00"/>
<line x1="1262.55" y1="531.44" x2="1267.35" y2="531.44" stroke="#222" stroke-width="1.00"/>
<line x1="1262.55" y1="538.64" x2="1267.35" y2="538.64" stroke="#222" stroke-width="1.00"/>
<line x1="1280.94" y1="524.11" x2="1280.94" y2="531.31" stroke="#222" stroke-width="1.00"/>
<line x1="1278.54" y1="524.11" x2="1283.34" y2="524.11" stroke="#222" stroke-width="1.00"/>
<line x1="1278.54" y1="531.31" x2="1283.34" y2="531.31" stroke="#222" stroke-width="1.00"/>
<line x1="1296.93" y1="515.93" x2="1296.93" y2="525.13" stroke="#222" stroke-width="1.00"/>
<line x1="1294.53" y1="515.93" x2="1299.33" y2="515.93" stroke="#222" stroke-width="1.00"/>
<line x1="1294.53" y1="525.13" x2="1299.33" y2="525.13" stroke="#222" stroke-width="1.00"/>
<line x1="1312.92" y1="523.41" x2="1312.92" y2="530.61" stroke="#222" stroke-width="1.00"/>
<line x1="1310.52" y1="523.41" x2="1315.32" y2="523.41" stroke="#222" stroke-width="1.00"/>
<line x1="1310.52" y1="530.61" x2="1315.32" y2="530.61" stroke="#222" stroke-width="1.00"/>
<polyline points="881.19,541.52 897.18,534.90 913.17,541.80 929.16,548.85 945.15,544.76 961.14,530.96 977.13,530.67 993.12,497.84 1009.11,506.30 1025.10,520.53 1041.09,506.30 1057.08,477.98 1073.07,492.07 1089.06,506.16 1105.05,506.16 1121.04,520.67 1137.03,492.07 1153.02,488.83 1169.01,477.98 1185.00,495.87 1200.99,485.16 1216.98,477.98 1232.97,506.16 1248.96,477.98 1264.95,477.98 1280.94,449.23 1296.93,449.23 1312.92,464.03" fill="none" stroke="#000" stroke-width="1.00"/>
<line x1="881.19" y1="537.92" x2="881.19" y2="545.12" stroke="#222" stroke-width="1.00"/>
<line x1="878.79" y1="537.92" x2="883.59" y2="537.92" stroke="#222" stroke-width="1.00"/>
<line x1="878.79" y1="545.12" x2="883.59" y2="545.12" stroke="#222" stroke-width="1.00"/>
<line x1="897.18" y1="531.30" x2="897.18" y2="538.50" stroke="#222" stroke-width="1.00"/>
<line x1="894.78" y1="531.30" x2="899.58" y2="531.30" stroke="#222" stroke-width="1.00"/>
<line x1="894.78" y1="538.50" x2="899.58" y2="538.50" stroke="#222" stroke-width="1.00"/>
<line x1="913.17" y1="538.20" x2="913.17" y2="545.40" stroke="#222" stroke-width="1.00"/>
<line x1="910.77" y1="538.20" x2="915.57" y2="538.20" stroke="#222" stroke-width="1.00"/>
<line x1="910.77" y1="545.40" x2="915.57" y2="545.40" stroke="#222" stroke-width="1.00"/>
<line x1="929.16" y1="541.45" x2="929.16" y2="556.25" stroke="#222" stroke-width="1.00"/>
<line x1="926.76" y1="541.45" x2="931.56" y2="541.45" stroke="#222" stroke-width="1.00"/>
<line x1="926.76" y1="556.25" x2="931.56" y2="556.25" stroke="#222" stroke-width="1.00"/>
<line x1="945.15" y1="541.16" x2="945.15" y2="548.36" stroke="#222" stroke-width="1.00"/>
<line x1="942.75" y1="541.16" x2="947.55" y2="541.16" stroke="#222" stroke-width="1.00"/>
<line x1="942.75" y1="548.36" x2="947.55" y2="548.36" stroke="#222" stroke-width="1.00"/>
<line x1="961.14" y1="527.36" x2="961.14" y2="534.56" stroke="#222" stroke-width="1.00"/>
<line x1="958.74" y1="527.36" x2="963.54" y2="527.36" stroke="#222" stroke-width="1.00"/>
<line x1="958.74" y1="534.56" x2="963.54" y2="534.56" stroke="#222" stroke-width="1.00"/>
<line x1="977.13" y1="527.07" x2="977.13" y2="534.27" stroke="#222" stroke-width="1.00"/>
<line x1="974.73" y1="527.07" x2="979.53" y2="527.07" stroke="#222" stroke-width="1.00"/>
<line x1="974.73" y1="534.27" x2="979.53" y2="534.27" stroke="#222" stroke-width="1.00"/>
<line x1="1009.11" y1="501.80" x2="1009.11" y2="510.80" stroke="#222" stroke-width="1.00"/>
<line x1="1006.71" y1="501.80" x2="1011.51" y2="501.80" stroke="#222" stroke-width="1.00"/>
<line x1="1006.71" y1="510.80" x2="1011.51" y2="510.80" stroke="#222" stroke-width="1.00"/>
<line x1="1025.10" y1="516.93" x2="1025.10" y2="524.13" stroke="#222" stroke-width="1.00"/>
<line x1="1022.70" y1="516.93" x2="1027.50" y2="516.93" stroke="#222" stroke-width="1.00"/>
<line x1="1022.70" y1="524.13" x2="1027.50" y2="524.13" stroke="#222" stroke-width="1.00"/>
<line x1="1041.09" y1="502.70" x2="1041.09" y2="509.90" stroke="#222" stroke-width="1.00"/>
<line x1="1038.69" y1="502.70" x2="1043.49" y2="502.70" stroke="#222" stroke-width="1.00"/>
<line x1="1038.69" y1="509.90" x2="1043.49" y2="509.90" stroke="#222" stroke-width="1.00"/>
<line x1="1057.08" y1="474.38" x2="1057.08" y2="481.58" stroke="#222" stroke-width="1.00"/>
<line x1="1054.68" y1="474.38" x2="1059.48" y2="474.38" stroke="#222" stroke-width="1.00"/>
<line x1="1054.68" y1="481.58" x2="1059.48" y2="481.58" stroke="#222" stroke-width="1.00"/>
<line x1="1073.07" y1="485.07" x2="1073.07" y2="499.07" stroke="#222" stroke-width="1.00"/>
<line x1="1070.67" y1="485.07" x2="1075.47" y2="485.07" stroke="#222" stroke-width="1.00"/>
<line x1="1070.67" y1="499.07" x2="1075.47" y2="499.07" stroke="#222" stroke-width="1.00"/>
<line x1="1089.06" y1="502.56" x2="1089.06" y2="509.76" stroke="#222" stroke-width="1.00"/>
<line x1="1086.66" y1="502.56" x2="1091.46" y2="502.56" stroke="#222" stroke-width="1.00"/>
<line x1="1086.66" y1="509.76" x2="1091.46" y2="509.76" stroke="#222" stroke-width="1.00"/>
<line x1="1105.05" y1="502.56" x2="1105.05" y2="509.76" stroke="#222" stroke-width="1.00"/>
<line x1="1102.65" y1="502.56" x2="1107.45" y2="502.56" stroke="#222" stroke-width="1.00"/>
<line x1="1102.65" y1="509.76" x2="1107.45" y2="509.76" stroke="#222" stroke-width="1.00"/>
<line x1="1121.04" y1="515.67" x2="1121.04" y2="525.67" stroke="#222" stroke-width="1.00"/>
<line x1="1118.64" y1="515.67" x2="1123.44" y2="515.67" stroke="#222" stroke-width="1.00"/>
<line x1="1118.64" y1="525.67" x2="1123.44" y2="525.67" stroke="#222" stroke-width="1.00"/>
<line x1="1137.03" y1="488.47" x2="1137.03" y2="495.67" stroke="#222" stroke-width="1.00"/>
<line x1="1134.63" y1="488.47" x2="1139.43" y2="488.47" stroke="#222" stroke-width="1.00"/>
<line x1="1134.63" y1="495.67" x2="1139.43" y2="495.67" stroke="#222" stroke-width="1.00"/>
<line x1="1153.02" y1="485.23" x2="1153.02" y2="492.43" stroke="#222" stroke-width="1.00"/>
<line x1="1150.62" y1="485.23" x2="1155.42" y2="485.23" stroke="#222" stroke-width="1.00"/>
<line x1="1150.62" y1="492.43" x2="1155.42" y2="492.43" stroke="#222" stroke-width="1.00"/>
<line x1="1169.01" y1="474.38" x2="1169.01" y2="481.58" stroke="#222" stroke-width="1.00"/>
<line x1="1166.61" y1="474.38" x2="1171.41" y2="474.38" stroke="#222" stroke-width="1.00"/>
<line x1="1166.61" y1="481.58" x2="1171.41" y2="481.58" stroke="#222" stroke-width="1.00"/>
<line x1="1185.00" y1="491.37" x2="1185.00" y2="500.37" stroke="#222" stroke-width="1.00"/>
<line x1="1182.60" y1="491.37" x2="1187.40" y2="491.37" stroke="#222" stroke-width="1.00"/>
<line x1="1182.60" y1="500.37" x2="1187.40" y2="500.37" stroke="#222" stroke-width="1.00"/>
<line x1="1200.99" y1="481.56" x2="1200.99" y2="488.76" stroke="#222" stroke-width="1.00"/>
<line x1="1198.59" y1="481.56" x2="1203.39" y2="481.56" stroke="#222" stroke-width="1.00"/>
<line x1="1198.59" y1="488.76" x2="1203.39" y2="488.76" stroke="#222" stroke-width="1.00"/>
<line x1="1216.98" y1="474.38" x2="1216.98" y2="481.58" stroke="#222" stroke-width="1.00"/>
<line x1="1214.58" y1="474.38" x2="1219.38" y2="474.38" stroke="#222" stroke-width="1.00"/>
<line x1="1214.58" y1="481.58" x2="1219.38" y2="481.58" stroke="#222" stroke-width="1.00"/>
<line x1="1232.97" y1="502.56" x2="1232.97" y2="509.76" stroke="#222" stroke-width="1.00"/>
<line x1="1230.57" y1="502.56" x2="1235.37" y2="502.56" stroke="#222" stroke-width="1.00"/>
<line x1="1230.57" y1="509.76" x2="1235.37" y2="509.76" stroke="#222" stroke-width="1.00"/>
<line x1="1248.96" y1="474.38" x2="1248.96" y2="481.58" stroke="#222" stroke-width="1.00"/>
<line x1="1246.56" y1="474.38" x2="1251.36" y2="474.38" stroke="#222" stroke-width="1.00"/>
<line x1="1246.56" y1="481.58" x2="1251.36" y2="481.58" stroke="#222" stroke-width="1.00"/>
<line x1="1264.95" y1="474.38" x2="1264.95" y2="481.58" stroke="#222" stroke-width="1.00"/>
<line x1="1262.55" y1="474.38" x2="1267.35" y2="474.38" stroke="#222" stroke-width="1.00"/>
<line x1="1262.55" y1="481.58" x2="1267.35" y2="481.58" stroke="#222" stroke-width="1.00"/>
<line x1="1280.94" y1="445.63" x2="1280.94" y2="452.83" stroke="#222" stroke-width="1.00"/>
<line x1="1278.54" y1="445.63" x2="1283.34" y2="445.63" stroke="#222" stroke-width="1.00"/>
<line x1="1278.54" y1="452.83" x2="1283.34" y2="452.83" stroke="#222" stroke-width="1.00"/>
<line x1="1296.93" y1="445.63" x2="1296.93" y2="452.83" stroke="#222" stroke-width="1.00"/>
<line x1="1294.53" y1="445.63" x2="1299.33" y2="445.63" stroke="#222" stroke-width="1.00"/>
<line x1="1294.53" y1="452.83" x2="1299.33" y2="452.83" stroke="#222" stroke-width="1.00"/>
<line x1="1312.92" y1="458.43" x2="1312.92" y2="469.63" stroke="#222" stroke-width="1.00"/>
<line x1="1310.52" y1="458.43" x2="1315.32" y2="458.43" stroke="#222" stroke-width="1.00"/>
<line x1="1310.52" y1="469.63" x2="1315.32" y2="469.63" stroke="#222" stroke-width="1.00"/>
<circle cx="881.19" cy="583.51" r="2.65" fill="#fff" stroke="#000" stroke-width="1.35"/>
<circle cx="897.18" cy="582.81" r="2.65" fill="#fff" stroke="#000" stroke-width="1.35"/>
<circle cx="913.17" cy="578.72" r="2.65" fill="#fff" stroke="#000" stroke-width="1.35"/>
<circle cx="929.16" cy="575.62" r="2.65" fill="#fff" stroke="#000" stroke-width="1.35"/>
<circle cx="945.15" cy="584.22" r="2.65" fill="#fff" stroke="#000" stroke-width="1.35"/>
<circle cx="961.14" cy="576.75" r="2.65" fill="#fff" stroke="#000" stroke-width="1.35"/>
<circle cx="977.13" cy="574.49" r="2.65" fill="#fff" stroke="#000" stroke-width="1.35"/>
<circle cx="993.12" cy="564.35" r="2.65" fill="#fff" stroke="#000" stroke-width="1.35"/>
<circle cx="1009.11" cy="577.03" r="2.65" fill="#fff" stroke="#000" stroke-width="1.35"/>
<circle cx="1025.10" cy="566.74" r="2.65" fill="#fff" stroke="#000" stroke-width="1.35"/>
<circle cx="1041.09" cy="566.74" r="2.65" fill="#fff" stroke="#000" stroke-width="1.35"/>
<circle cx="1057.08" cy="563.50" r="2.65" fill="#fff" stroke="#000" stroke-width="1.35"/>
<circle cx="1073.07" cy="573.51" r="2.65" fill="#fff" stroke="#000" stroke-width="1.35"/>
<circle cx="1089.06" cy="563.50" r="2.65" fill="#fff" stroke="#000" stroke-width="1.35"/>
<circle cx="1105.05" cy="576.61" r="2.65" fill="#fff" stroke="#000" stroke-width="1.35"/>
<circle cx="1121.04" cy="572.52" r="2.65" fill="#fff" stroke="#000" stroke-width="1.35"/>
<circle cx="1137.03" cy="548.99" r="2.65" fill="#fff" stroke="#000" stroke-width="1.35"/>
<circle cx="1153.02" cy="554.20" r="2.65" fill="#fff" stroke="#000" stroke-width="1.35"/>
<circle cx="1169.01" cy="558.01" r="2.65" fill="#fff" stroke="#000" stroke-width="1.35"/>
<circle cx="1185.00" cy="553.92" r="2.65" fill="#fff" stroke="#000" stroke-width="1.35"/>
<circle cx="1200.99" cy="566.32" r="2.65" fill="#fff" stroke="#000" stroke-width="1.35"/>
<circle cx="1216.98" cy="553.64" r="2.65" fill="#fff" stroke="#000" stroke-width="1.35"/>
<circle cx="1232.97" cy="553.64" r="2.65" fill="#fff" stroke="#000" stroke-width="1.35"/>
<circle cx="1248.96" cy="553.64" r="2.65" fill="#fff" stroke="#000" stroke-width="1.35"/>
<circle cx="1264.95" cy="553.64" r="2.65" fill="#fff" stroke="#000" stroke-width="1.35"/>
<circle cx="1280.94" cy="553.64" r="2.65" fill="#fff" stroke="#000" stroke-width="1.35"/>
<circle cx="1296.93" cy="553.64" r="2.65" fill="#fff" stroke="#000" stroke-width="1.35"/>
<circle cx="1312.92" cy="557.73" r="2.65" fill="#fff" stroke="#000" stroke-width="1.35"/>
<rect x="877.99" y="567.21" width="6.40" height="6.40" fill="#000" stroke="none" stroke-width="0.00"/>
<rect x="893.98" y="573.83" width="6.40" height="6.40" fill="#000" stroke="none" stroke-width="0.00"/>
<rect x="909.97" y="570.59" width="6.40" height="6.40" fill="#000" stroke="none" stroke-width="0.00"/>
<rect x="925.96" y="554.10" width="6.40" height="6.40" fill="#000" stroke="none" stroke-width="0.00"/>
<rect x="941.95" y="568.33" width="6.40" height="6.40" fill="#000" stroke="none" stroke-width="0.00"/>
<rect x="957.94" y="568.33" width="6.40" height="6.40" fill="#000" stroke="none" stroke-width="0.00"/>
<rect x="973.93" y="572.00" width="6.40" height="6.40" fill="#000" stroke="none" stroke-width="0.00"/>
<rect x="989.92" y="556.08" width="6.40" height="6.40" fill="#000" stroke="none" stroke-width="0.00"/>
<rect x="1005.91" y="566.93" width="6.40" height="6.40" fill="#000" stroke="none" stroke-width="0.00"/>
<rect x="1021.90" y="563.83" width="6.40" height="6.40" fill="#000" stroke="none" stroke-width="0.00"/>
<rect x="1037.89" y="566.93" width="6.40" height="6.40" fill="#000" stroke="none" stroke-width="0.00"/>
<rect x="1053.88" y="538.60" width="6.40" height="6.40" fill="#000" stroke="none" stroke-width="0.00"/>
<rect x="1069.87" y="538.60" width="6.40" height="6.40" fill="#000" stroke="none" stroke-width="0.00"/>
<rect x="1085.86" y="541.70" width="6.40" height="6.40" fill="#000" stroke="none" stroke-width="0.00"/>
<rect x="1101.85" y="566.93" width="6.40" height="6.40" fill="#000" stroke="none" stroke-width="0.00"/>
<rect x="1117.84" y="573.97" width="6.40" height="6.40" fill="#000" stroke="none" stroke-width="0.00"/>
<rect x="1133.83" y="570.17" width="6.40" height="6.40" fill="#000" stroke="none" stroke-width="0.00"/>
<rect x="1149.82" y="554.39" width="6.40" height="6.40" fill="#000" stroke="none" stroke-width="0.00"/>
<rect x="1165.81" y="568.76" width="6.40" height="6.40" fill="#000" stroke="none" stroke-width="0.00"/>
<rect x="1181.80" y="568.76" width="6.40" height="6.40" fill="#000" stroke="none" stroke-width="0.00"/>
<rect x="1197.79" y="571.58" width="6.40" height="6.40" fill="#000" stroke="none" stroke-width="0.00"/>
<rect x="1213.78" y="555.51" width="6.40" height="6.40" fill="#000" stroke="none" stroke-width="0.00"/>
<rect x="1229.77" y="566.36" width="6.40" height="6.40" fill="#000" stroke="none" stroke-width="0.00"/>
<rect x="1245.76" y="562.98" width="6.40" height="6.40" fill="#000" stroke="none" stroke-width="0.00"/>
<rect x="1261.75" y="566.36" width="6.40" height="6.40" fill="#000" stroke="none" stroke-width="0.00"/>
<rect x="1277.74" y="538.18" width="6.40" height="6.40" fill="#000" stroke="none" stroke-width="0.00"/>
<rect x="1293.73" y="538.18" width="6.40" height="6.40" fill="#000" stroke="none" stroke-width="0.00"/>
<rect x="1309.72" y="541.99" width="6.40" height="6.40" fill="#000" stroke="none" stroke-width="0.00"/>
<path d="M881.19 555.79 L884.59 562.09 L877.79 562.09 Z" fill="#000"/>
<path d="M897.18 555.79 L900.58 562.09 L893.78 562.09 Z" fill="#000"/>
<path d="M913.17 564.67 L916.57 570.97 L909.77 570.97 Z" fill="#000"/>
<path d="M929.16 553.12 L932.56 559.42 L925.76 559.42 Z" fill="#000"/>
<path d="M945.15 539.31 L948.55 545.61 L941.75 545.61 Z" fill="#000"/>
<path d="M961.14 545.65 L964.54 551.95 L957.74 551.95 Z" fill="#000"/>
<path d="M977.13 523.81 L980.53 530.11 L973.73 530.11 Z" fill="#000"/>
<path d="M993.12 536.07 L996.52 542.37 L989.72 542.37 Z" fill="#000"/>
<path d="M1009.11 563.26 L1012.51 569.56 L1005.71 569.56 Z" fill="#000"/>
<path d="M1025.10 545.08 L1028.50 551.38 L1021.70 551.38 Z" fill="#000"/>
<path d="M1041.09 551.71 L1044.49 558.01 L1037.69 558.01 Z" fill="#000"/>
<path d="M1057.08 537.90 L1060.48 544.20 L1053.68 544.20 Z" fill="#000"/>
<path d="M1073.07 559.60 L1076.47 565.90 L1069.67 565.90 Z" fill="#000"/>
<path d="M1089.06 545.08 L1092.46 551.38 L1085.66 551.38 Z" fill="#000"/>
<path d="M1105.05 555.09 L1108.45 561.39 L1101.65 561.39 Z" fill="#000"/>
<path d="M1121.04 555.09 L1124.44 561.39 L1117.64 561.39 Z" fill="#000"/>
<path d="M1137.03 564.95 L1140.43 571.25 L1133.63 571.25 Z" fill="#000"/>
<path d="M1153.02 550.30 L1156.42 556.60 L1149.62 556.60 Z" fill="#000"/>
<path d="M1169.01 538.46 L1172.41 544.76 L1165.61 544.76 Z" fill="#000"/>
<path d="M1185.00 544.94 L1188.40 551.24 L1181.60 551.24 Z" fill="#000"/>
<path d="M1200.99 523.53 L1204.39 529.83 L1197.59 529.83 Z" fill="#000"/>
<path d="M1216.98 536.21 L1220.38 542.51 L1213.58 542.51 Z" fill="#000"/>
<path d="M1232.97 531.14 L1236.37 537.44 L1229.57 537.44 Z" fill="#000"/>
<path d="M1248.96 531.14 L1252.36 537.44 L1245.56 537.44 Z" fill="#000"/>
<path d="M1264.95 531.14 L1268.35 537.44 L1261.55 537.44 Z" fill="#000"/>
<path d="M1280.94 523.81 L1284.34 530.11 L1277.54 530.11 Z" fill="#000"/>
<path d="M1296.93 516.62 L1300.33 522.92 L1293.53 522.92 Z" fill="#000"/>
<path d="M1312.92 523.10 L1316.32 529.40 L1309.52 529.40 Z" fill="#000"/>
<circle cx="881.19" cy="541.52" r="3.25" fill="#000" stroke="none" stroke-width="0.00"/>
<circle cx="897.18" cy="534.90" r="3.25" fill="#000" stroke="none" stroke-width="0.00"/>
<circle cx="913.17" cy="541.80" r="3.25" fill="#000" stroke="none" stroke-width="0.00"/>
<circle cx="929.16" cy="548.85" r="3.25" fill="#000" stroke="none" stroke-width="0.00"/>
<circle cx="945.15" cy="544.76" r="3.25" fill="#000" stroke="none" stroke-width="0.00"/>
<circle cx="961.14" cy="530.96" r="3.25" fill="#000" stroke="none" stroke-width="0.00"/>
<circle cx="977.13" cy="530.67" r="3.25" fill="#000" stroke="none" stroke-width="0.00"/>
<circle cx="1009.11" cy="506.30" r="3.25" fill="#000" stroke="none" stroke-width="0.00"/>
<circle cx="1025.10" cy="520.53" r="3.25" fill="#000" stroke="none" stroke-width="0.00"/>
<circle cx="1041.09" cy="506.30" r="3.25" fill="#000" stroke="none" stroke-width="0.00"/>
<circle cx="1057.08" cy="477.98" r="3.25" fill="#000" stroke="none" stroke-width="0.00"/>
<circle cx="1073.07" cy="492.07" r="3.25" fill="#000" stroke="none" stroke-width="0.00"/>
<circle cx="1089.06" cy="506.16" r="3.25" fill="#000" stroke="none" stroke-width="0.00"/>
<circle cx="1105.05" cy="506.16" r="3.25" fill="#000" stroke="none" stroke-width="0.00"/>
<circle cx="1121.04" cy="520.67" r="3.25" fill="#000" stroke="none" stroke-width="0.00"/>
<circle cx="1137.03" cy="492.07" r="3.25" fill="#000" stroke="none" stroke-width="0.00"/>
<circle cx="1153.02" cy="488.83" r="3.25" fill="#000" stroke="none" stroke-width="0.00"/>
<circle cx="1169.01" cy="477.98" r="3.25" fill="#000" stroke="none" stroke-width="0.00"/>
<circle cx="1185.00" cy="495.87" r="3.25" fill="#000" stroke="none" stroke-width="0.00"/>
<circle cx="1200.99" cy="485.16" r="3.25" fill="#000" stroke="none" stroke-width="0.00"/>
<circle cx="1216.98" cy="477.98" r="3.25" fill="#000" stroke="none" stroke-width="0.00"/>
<circle cx="1232.97" cy="506.16" r="3.25" fill="#000" stroke="none" stroke-width="0.00"/>
<circle cx="1248.96" cy="477.98" r="3.25" fill="#000" stroke="none" stroke-width="0.00"/>
<circle cx="1264.95" cy="477.98" r="3.25" fill="#000" stroke="none" stroke-width="0.00"/>
<circle cx="1280.94" cy="449.23" r="3.25" fill="#000" stroke="none" stroke-width="0.00"/>
<circle cx="1296.93" cy="449.23" r="3.25" fill="#000" stroke="none" stroke-width="0.00"/>
<circle cx="1312.92" cy="464.03" r="3.25" fill="#000" stroke="none" stroke-width="0.00"/>
<path d="M990.32 497.84 A2.8 2.2 0 0 0 995.92 497.84 Z" fill="#000"/>
<line x1="990.52" y1="497.84" x2="995.72" y2="497.84" stroke="#222" stroke-width="1.00"/>
<text x="879.24" y="540.52" style="font-size:10.00px;" fill="#111">*</text>
<text x="895.23" y="533.90" style="font-size:10.00px;" fill="#111">*</text>
<text x="911.22" y="540.80" style="font-size:10.00px;" fill="#111">*</text>
<text x="927.21" y="547.85" style="font-size:10.00px;" fill="#111">*</text>
<text x="943.20" y="542.01" style="font-size:10.00px;" fill="#111">*</text>
<text x="959.19" y="529.96" style="font-size:10.00px;" fill="#111">*</text>
<text x="975.18" y="526.51" style="font-size:10.00px;" fill="#111">*</text>
<text x="1007.16" y="505.30" style="font-size:10.00px;" fill="#111">*</text>
<text x="1023.15" y="519.53" style="font-size:10.00px;" fill="#111">*</text>
<text x="1039.14" y="505.30" style="font-size:10.00px;" fill="#111">*</text>
<text x="1055.13" y="476.98" style="font-size:10.00px;" fill="#111">*</text>
<text x="1071.12" y="491.07" style="font-size:10.00px;" fill="#111">*</text>
<text x="1087.11" y="505.16" style="font-size:10.00px;" fill="#111">*</text>
<text x="1103.10" y="505.16" style="font-size:10.00px;" fill="#111">*</text>
<text x="1119.09" y="519.67" style="font-size:10.00px;" fill="#111">*</text>
<text x="1135.08" y="491.07" style="font-size:10.00px;" fill="#111">*</text>
<text x="1151.07" y="487.83" style="font-size:10.00px;" fill="#111">*</text>
<text x="1167.06" y="476.98" style="font-size:10.00px;" fill="#111">*</text>
<text x="1183.05" y="494.87" style="font-size:10.00px;" fill="#111">*</text>
<text x="1199.04" y="484.16" style="font-size:10.00px;" fill="#111">*</text>
<text x="1215.03" y="476.98" style="font-size:10.00px;" fill="#111">*</text>
<text x="1231.02" y="505.16" style="font-size:10.00px;" fill="#111">*</text>
<text x="1247.01" y="476.98" style="font-size:10.00px;" fill="#111">*</text>
<text x="1263.00" y="476.98" style="font-size:10.00px;" fill="#111">*</text>
<text x="1278.99" y="448.23" style="font-size:10.00px;" fill="#111">*</text>
<text x="1294.98" y="448.23" style="font-size:10.00px;" fill="#111">*</text>
<text x="1310.97" y="463.03" style="font-size:10.00px;" fill="#111">*</text>
<text x="866.17" y="562.90" style="font-size:9.50px;font-style:italic;" fill="#222">*,#</text>
<text x="866.17" y="575.50" style="font-size:9.50px;font-style:italic;" fill="#222">*,#</text>
<text x="890.87" y="555.20" style="font-size:9.50px;font-style:italic;" fill="#222">*,#</text>
<text x="894.62" y="574.80" style="font-size:9.50px;font-style:italic;" fill="#222">#</text>
<text x="910.52" y="566.80" style="font-size:9.50px;font-style:italic;" fill="#222">#</text>
<text x="940.07" y="570.20" style="font-size:9.50px;font-style:italic;" fill="#222">*,#</text>
<text x="954.57" y="546.50" style="font-size:9.50px;font-style:italic;" fill="#222">*,#</text>
<text x="958.22" y="568.20" style="font-size:9.50px;font-style:italic;" fill="#222">#</text>
<text x="974.22" y="569.20" style="font-size:9.50px;font-style:italic;" fill="#222">#</text>
<text x="987.87" y="533.80" style="font-size:9.50px;font-style:italic;" fill="#222">*,#</text>
<text x="990.22" y="558.20" style="font-size:9.50px;font-style:italic;" fill="#222">#</text>
<text x="1006.02" y="560.00" style="font-size:9.50px;font-style:italic;" fill="#222">#</text>
<text x="1020.37" y="542.20" style="font-size:9.50px;font-style:italic;" fill="#222">*,#</text>
<text x="1022.22" y="564.60" style="font-size:9.50px;font-style:italic;" fill="#222">#</text>
<text x="1035.57" y="553.10" style="font-size:9.50px;font-style:italic;" fill="#222">*,#</text>
<text x="1050.87" y="537.40" style="font-size:9.50px;font-style:italic;" fill="#222">*,#</text>
<text x="1067.47" y="530.60" style="font-size:9.50px;font-style:italic;" fill="#222">*,#</text>
<text x="1070.12" y="558.20" style="font-size:9.50px;font-style:italic;" fill="#222">#</text>
<text x="1082.37" y="542.40" style="font-size:9.50px;font-style:italic;" fill="#222">*,#</text>
<text x="1098.67" y="553.80" style="font-size:9.50px;font-style:italic;" fill="#222">*,#</text>
<text x="1107.82" y="575.70" style="font-size:9.50px;font-style:italic;" fill="#222">#</text>
<text x="1114.47" y="553.90" style="font-size:9.50px;font-style:italic;" fill="#222">*,#</text>
<text x="1118.12" y="592.30" style="font-size:9.50px;font-style:italic;" fill="#222">#</text>
<text x="1131.07" y="565.80" style="font-size:9.50px;font-style:italic;" fill="#222">*,#</text>
<text x="1150.12" y="552.50" style="font-size:9.50px;font-style:italic;" fill="#222">#</text>
<text x="1163.37" y="536.80" style="font-size:9.50px;font-style:italic;" fill="#222">*,#</text>
<text x="1163.37" y="586.50" style="font-size:9.50px;font-style:italic;" fill="#222">*,#</text>
<text x="1182.42" y="544.30" style="font-size:9.50px;font-style:italic;" fill="#222">#</text>
<text x="1179.07" y="587.30" style="font-size:9.50px;font-style:italic;" fill="#222">*,#</text>
<text x="1194.77" y="521.10" style="font-size:9.50px;font-style:italic;" fill="#222">*,#</text>
<text x="1198.12" y="590.60" style="font-size:9.50px;font-style:italic;" fill="#222">#</text>
<text x="1210.77" y="536.80" style="font-size:9.50px;font-style:italic;" fill="#222">*,#</text>
<text x="1214.02" y="572.30" style="font-size:9.50px;font-style:italic;" fill="#222">#</text>
<text x="1226.97" y="530.30" style="font-size:9.50px;font-style:italic;" fill="#222">*,#</text>
<text x="1226.97" y="583.40" style="font-size:9.50px;font-style:italic;" fill="#222">*,#</text>
<text x="1244.67" y="530.30" style="font-size:9.50px;font-style:italic;" fill="#222">*,#</text>
<text x="1242.77" y="580.60" style="font-size:9.50px;font-style:italic;" fill="#222">*,#</text>
<text x="1260.47" y="530.30" style="font-size:9.50px;font-style:italic;" fill="#222">*,#</text>
<text x="1259.57" y="583.40" style="font-size:9.50px;font-style:italic;" fill="#222">*,#</text>
<text x="1275.37" y="521.00" style="font-size:9.50px;font-style:italic;" fill="#222">*,#</text>
<text x="1275.37" y="540.50" style="font-size:9.50px;font-style:italic;" fill="#222">*,#</text>
<text x="1291.57" y="515.40" style="font-size:9.50px;font-style:italic;" fill="#222">*,#</text>
<text x="1291.57" y="538.70" style="font-size:9.50px;font-style:italic;" fill="#222">*,#</text>
<text x="1309.87" y="525.30" style="font-size:9.50px;font-style:italic;" fill="#222">*,#</text>
<text x="1307.97" y="542.40" style="font-size:9.50px;font-style:italic;" fill="#222">*,#</text>
<text x="860.47" y="645.30" style="font-size:17.00px;" fill="#000">0</text>
<text x="972.40" y="645.30" style="font-size:17.00px;" fill="#000">7</text>
<text x="1079.21" y="645.30" style="font-size:17.00px;" fill="#000">14</text>
<text x="1191.52" y="645.30" style="font-size:17.00px;" fill="#000">21</text>
<text x="1302.55" y="645.30" style="font-size:17.00px;" fill="#000">28 (days)</text>
<text transform="translate(821.94 598.70) rotate(-90)" x="0" y="0" style="font-size:20.75px;" fill="#000">Food intake (g/day)</text>
<line x1="883.10" y1="407.10" x2="911.80" y2="407.10" stroke="#7a7a7a" stroke-width="1.00"/>
<circle cx="897.10" cy="407.10" r="2.44" fill="#fff" stroke="#000" stroke-width="1.24"/>
<text x="927.93" y="413.60" style="font-size:16.30px;" fill="#000">WT</text>
<line x1="883.10" y1="429.20" x2="911.80" y2="429.20" stroke="#7a7a7a" stroke-width="1.00"/>
<circle cx="897.10" cy="429.20" r="2.99" fill="#000" stroke="none" stroke-width="0.00"/>
<text x="927.93" y="435.70" style="font-size:16.30px;" fill="#000">Vehicle</text>
<line x1="883.10" y1="451.30" x2="911.80" y2="451.30" stroke="#7a7a7a" stroke-width="1.00"/>
<path d="M897.10 447.71 L900.23 453.50 L893.97 453.50 Z" fill="#000"/>
<text x="926.66" y="457.80" style="font-size:16.30px;" fill="#000">LMED</text>
<line x1="883.10" y1="473.40" x2="911.80" y2="473.40" stroke="#7a7a7a" stroke-width="1.00"/>
<rect x="894.16" y="470.46" width="5.89" height="5.89" fill="#000" stroke="none" stroke-width="0.00"/>
<text x="926.66" y="479.90" style="font-size:16.30px;" fill="#000">HMED</text>
<line x1="984.10" y1="423.20" x2="984.10" y2="486.90" stroke="#333" stroke-width="1.10"/>
<text transform="translate(1003.96 483.91) rotate(-90)" style="font-size:16.99px"><tspan style="font-style:italic">Lep</tspan> KO</text>
<line x1="110.60" y1="851.50" x2="110.60" y2="845.13" stroke="#cfcfcf" stroke-width="1.60"/>
<line x1="103.20" y1="845.13" x2="118.00" y2="845.13" stroke="#cfcfcf" stroke-width="1.60"/>
<rect x="95.60" y="851.50" width="30.00" height="51.10" fill="#ffffff" stroke="#111" stroke-width="1.80"/>
<circle cx="110.60" cy="839.32" r="3.30" fill="#cfcfcf" stroke="none" stroke-width="0.00"/>
<circle cx="110.60" cy="855.00" r="3.30" fill="#cfcfcf" stroke="none" stroke-width="0.00"/>
<circle cx="110.60" cy="860.01" r="3.30" fill="#cfcfcf" stroke="none" stroke-width="0.00"/>
<line x1="110.60" y1="902.60" x2="110.60" y2="909.80" stroke="#111" stroke-width="1.60"/>
<line x1="163.80" y1="797.29" x2="163.80" y2="783.44" stroke="#848484" stroke-width="1.60"/>
<line x1="156.40" y1="783.44" x2="171.20" y2="783.44" stroke="#848484" stroke-width="1.60"/>
<rect x="148.80" y="797.29" width="30.00" height="105.31" fill="#d4d4d4" stroke="#111" stroke-width="1.80"/>
<circle cx="163.80" cy="779.06" r="3.30" fill="#848484" stroke="none" stroke-width="0.00"/>
<circle cx="163.80" cy="788.14" r="3.30" fill="#848484" stroke="none" stroke-width="0.00"/>
<circle cx="163.80" cy="822.92" r="3.30" fill="#848484" stroke="none" stroke-width="0.00"/>
<line x1="163.80" y1="902.60" x2="163.80" y2="909.80" stroke="#111" stroke-width="1.60"/>
<line x1="217.20" y1="803.02" x2="217.20" y2="792.91" stroke="#6b6b6b" stroke-width="1.60"/>
<line x1="209.80" y1="792.91" x2="224.60" y2="792.91" stroke="#6b6b6b" stroke-width="1.60"/>
<rect x="202.20" y="803.02" width="30.00" height="99.58" fill="#a09fa6" stroke="#111" stroke-width="1.80"/>
<circle cx="217.20" cy="791.00" r="3.30" fill="#6b6b6b" stroke="none" stroke-width="0.00"/>
<circle cx="217.20" cy="794.98" r="3.30" fill="#6b6b6b" stroke="none" stroke-width="0.00"/>
<circle cx="217.20" cy="821.49" r="3.30" fill="#6b6b6b" stroke="none" stroke-width="0.00"/>
<line x1="217.20" y1="902.60" x2="217.20" y2="909.80" stroke="#111" stroke-width="1.60"/>
<line x1="270.40" y1="824.59" x2="270.40" y2="815.68" stroke="#2f2f2f" stroke-width="1.60"/>
<line x1="263.00" y1="815.68" x2="277.80" y2="815.68" stroke="#2f2f2f" stroke-width="1.60"/>
<rect x="255.40" y="824.59" width="30.00" height="78.01" fill="#5b5b5b" stroke="#111" stroke-width="1.80"/>
<circle cx="267.40" cy="816.00" r="3.30" fill="#2f2f2f" stroke="none" stroke-width="0.00"/>
<circle cx="273.40" cy="816.00" r="3.30" fill="#2f2f2f" stroke="none" stroke-width="0.00"/>
<circle cx="270.40" cy="838.76" r="3.30" fill="#2f2f2f" stroke="none" stroke-width="0.00"/>
<line x1="270.40" y1="902.60" x2="270.40" y2="909.80" stroke="#111" stroke-width="1.60"/>
<line x1="84.20" y1="742.70" x2="84.20" y2="903.40" stroke="#111" stroke-width="1.60"/>
<line x1="83.40" y1="902.60" x2="297.20" y2="902.60" stroke="#111" stroke-width="1.60"/>
<line x1="76.70" y1="902.60" x2="84.20" y2="902.60" stroke="#111" stroke-width="1.60"/>
<text x="64.69" y="908.70" style="font-size:17.00px;" fill="#000">0</text>
<line x1="76.70" y1="862.80" x2="84.20" y2="862.80" stroke="#111" stroke-width="1.60"/>
<text x="55.24" y="868.90" style="font-size:17.00px;" fill="#000">50</text>
<line x1="76.70" y1="823.00" x2="84.20" y2="823.00" stroke="#111" stroke-width="1.60"/>
<text x="45.79" y="829.10" style="font-size:17.00px;" fill="#000">100</text>
<line x1="76.70" y1="783.20" x2="84.20" y2="783.20" stroke="#111" stroke-width="1.60"/>
<text x="45.79" y="789.30" style="font-size:17.00px;" fill="#000">150</text>
<line x1="76.70" y1="743.40" x2="84.20" y2="743.40" stroke="#111" stroke-width="1.60"/>
<text x="45.79" y="749.50" style="font-size:17.00px;" fill="#000">200</text>
<text x="97.54" y="928.10" style="font-size:17.00px;" fill="#000">WT</text>
<text x="136.74" y="928.10" style="font-size:17.00px;" fill="#000">Vehicle</text>
<text x="193.29" y="928.10" style="font-size:17.00px;" fill="#000">LMED</text>
<text x="245.08" y="928.10" style="font-size:17.00px;" fill="#000">HMED</text>
<line x1="143.40" y1="936.90" x2="276.40" y2="936.90" stroke="#111" stroke-width="1.60"/>
<text x="187.93" y="956.20" style="font-size:17.00px" fill="#000"><tspan style="font-style:italic">Lep</tspan><tspan> KO</tspan></text>
<text x="160.38" y="765.79" style="font-size:17.50px;font-weight:bold;" fill="#000">*</text>
<text x="213.78" y="776.09" style="font-size:17.50px;font-weight:bold;" fill="#000">*</text>
<text x="260.76" y="800.44" style="font-size:17.50px;font-weight:bold;" fill="#000">*</text>
<text x="266.13" y="798.30" style="font-size:13.00px;font-weight:bold;font-style:italic;" fill="#000">,</text>
<text x="273.56" y="798.10" style="font-size:14.20px;font-weight:bold;font-style:italic;" fill="#000">#</text>
<text transform="translate(33.46 870.61) rotate(-90)" x="0" y="0" style="font-size:20.50px;" fill="#000">TC (mg/dL)</text>
<line x1="447.70" y1="830.32" x2="447.70" y2="828.25" stroke="#cfcfcf" stroke-width="1.60"/>
<line x1="440.30" y1="828.25" x2="455.10" y2="828.25" stroke="#cfcfcf" stroke-width="1.60"/>
<rect x="432.70" y="830.32" width="30.00" height="72.28" fill="#ffffff" stroke="#111" stroke-width="1.80"/>
<circle cx="447.70" cy="826.98" r="3.30" fill="#cfcfcf" stroke="none" stroke-width="0.00"/>
<circle cx="447.70" cy="830.96" r="3.30" fill="#cfcfcf" stroke="none" stroke-width="0.00"/>
<circle cx="447.70" cy="832.55" r="3.30" fill="#cfcfcf" stroke="none" stroke-width="0.00"/>
<line x1="447.70" y1="902.60" x2="447.70" y2="909.80" stroke="#111" stroke-width="1.60"/>
<line x1="500.90" y1="807.88" x2="500.90" y2="788.29" stroke="#848484" stroke-width="1.60"/>
<line x1="493.50" y1="788.29" x2="508.30" y2="788.29" stroke="#848484" stroke-width="1.60"/>
<rect x="485.90" y="807.88" width="30.00" height="94.72" fill="#d4d4d4" stroke="#111" stroke-width="1.80"/>
<circle cx="500.90" cy="776.83" r="3.30" fill="#848484" stroke="none" stroke-width="0.00"/>
<circle cx="500.90" cy="802.30" r="3.30" fill="#848484" stroke="none" stroke-width="0.00"/>
<circle cx="500.90" cy="842.10" r="3.30" fill="#848484" stroke="none" stroke-width="0.00"/>
<line x1="500.90" y1="902.60" x2="500.90" y2="909.80" stroke="#111" stroke-width="1.60"/>
<line x1="554.30" y1="840.99" x2="554.30" y2="835.10" stroke="#6b6b6b" stroke-width="1.60"/>
<line x1="546.90" y1="835.10" x2="561.70" y2="835.10" stroke="#6b6b6b" stroke-width="1.60"/>
<rect x="539.30" y="840.99" width="30.00" height="61.61" fill="#a09fa6" stroke="#111" stroke-width="1.80"/>
<circle cx="551.30" cy="834.94" r="3.30" fill="#6b6b6b" stroke="none" stroke-width="0.00"/>
<circle cx="557.30" cy="834.94" r="3.30" fill="#6b6b6b" stroke="none" stroke-width="0.00"/>
<circle cx="554.30" cy="850.06" r="3.30" fill="#6b6b6b" stroke="none" stroke-width="0.00"/>
<line x1="554.30" y1="902.60" x2="554.30" y2="909.80" stroke="#111" stroke-width="1.60"/>
<line x1="607.50" y1="840.99" x2="607.50" y2="834.62" stroke="#2f2f2f" stroke-width="1.60"/>
<line x1="600.10" y1="834.62" x2="614.90" y2="834.62" stroke="#2f2f2f" stroke-width="1.60"/>
<rect x="592.50" y="840.99" width="30.00" height="61.61" fill="#5b5b5b" stroke="#111" stroke-width="1.80"/>
<circle cx="607.50" cy="829.37" r="3.30" fill="#2f2f2f" stroke="none" stroke-width="0.00"/>
<circle cx="607.50" cy="842.10" r="3.30" fill="#2f2f2f" stroke="none" stroke-width="0.00"/>
<circle cx="607.50" cy="848.47" r="3.30" fill="#2f2f2f" stroke="none" stroke-width="0.00"/>
<line x1="607.50" y1="902.60" x2="607.50" y2="909.80" stroke="#111" stroke-width="1.60"/>
<line x1="421.30" y1="742.70" x2="421.30" y2="903.40" stroke="#111" stroke-width="1.60"/>
<line x1="420.50" y1="902.60" x2="634.30" y2="902.60" stroke="#111" stroke-width="1.60"/>
<line x1="413.80" y1="902.60" x2="421.30" y2="902.60" stroke="#111" stroke-width="1.60"/>
<text x="401.79" y="908.70" style="font-size:17.00px;" fill="#000">0</text>
<line x1="413.80" y1="870.76" x2="421.30" y2="870.76" stroke="#111" stroke-width="1.60"/>
<text x="392.34" y="876.86" style="font-size:17.00px;" fill="#000">20</text>
<line x1="413.80" y1="838.92" x2="421.30" y2="838.92" stroke="#111" stroke-width="1.60"/>
<text x="392.34" y="845.02" style="font-size:17.00px;" fill="#000">40</text>
<line x1="413.80" y1="807.08" x2="421.30" y2="807.08" stroke="#111" stroke-width="1.60"/>
<text x="392.34" y="813.18" style="font-size:17.00px;" fill="#000">60</text>
<line x1="413.80" y1="775.24" x2="421.30" y2="775.24" stroke="#111" stroke-width="1.60"/>
<text x="392.34" y="781.34" style="font-size:17.00px;" fill="#000">80</text>
<line x1="413.80" y1="743.40" x2="421.30" y2="743.40" stroke="#111" stroke-width="1.60"/>
<text x="382.89" y="749.50" style="font-size:17.00px;" fill="#000">100</text>
<text x="434.64" y="928.10" style="font-size:17.00px;" fill="#000">WT</text>
<text x="473.84" y="928.10" style="font-size:17.00px;" fill="#000">Vehicle</text>
<text x="530.39" y="928.10" style="font-size:17.00px;" fill="#000">LMED</text>
<text x="582.18" y="928.10" style="font-size:17.00px;" fill="#000">HMED</text>
<line x1="480.50" y1="936.90" x2="613.50" y2="936.90" stroke="#111" stroke-width="1.60"/>
<text x="525.03" y="956.20" style="font-size:17.00px" fill="#000"><tspan style="font-style:italic">Lep</tspan><tspan> KO</tspan></text>
<text x="497.48" y="773.39" style="font-size:17.50px;font-weight:bold;" fill="#000">*</text>
<text x="544.66" y="826.64" style="font-size:17.50px;font-weight:bold;" fill="#000">*</text>
<text x="550.03" y="824.50" style="font-size:13.00px;font-weight:bold;font-style:italic;" fill="#000">,</text>
<text x="557.46" y="824.30" style="font-size:14.20px;font-weight:bold;font-style:italic;" fill="#000">#</text>
<text x="597.87" y="821.54" style="font-size:17.50px;font-weight:bold;" fill="#000">*</text>
<text x="603.23" y="819.40" style="font-size:13.00px;font-weight:bold;font-style:italic;" fill="#000">,</text>
<text x="610.66" y="819.20" style="font-size:14.20px;font-weight:bold;font-style:italic;" fill="#000">#</text>
<text transform="translate(376.36 873.19) rotate(-90)" x="0" y="0" style="font-size:20.50px;" fill="#000">TG (mg/dL)</text>
<line x1="789.80" y1="860.57" x2="789.80" y2="854.20" stroke="#cfcfcf" stroke-width="1.60"/>
<line x1="782.40" y1="854.20" x2="797.20" y2="854.20" stroke="#cfcfcf" stroke-width="1.60"/>
<rect x="774.80" y="860.57" width="30.00" height="42.03" fill="#ffffff" stroke="#111" stroke-width="1.80"/>
<circle cx="789.80" cy="848.47" r="3.30" fill="#cfcfcf" stroke="none" stroke-width="0.00"/>
<circle cx="789.80" cy="862.00" r="3.30" fill="#cfcfcf" stroke="none" stroke-width="0.00"/>
<circle cx="789.80" cy="869.17" r="3.30" fill="#cfcfcf" stroke="none" stroke-width="0.00"/>
<line x1="789.80" y1="902.60" x2="789.80" y2="909.80" stroke="#111" stroke-width="1.60"/>
<line x1="843.00" y1="827.70" x2="843.00" y2="815.04" stroke="#848484" stroke-width="1.60"/>
<line x1="835.60" y1="815.04" x2="850.40" y2="815.04" stroke="#848484" stroke-width="1.60"/>
<rect x="828.00" y="827.70" width="30.00" height="74.90" fill="#d4d4d4" stroke="#111" stroke-width="1.80"/>
<circle cx="843.00" cy="803.10" r="3.30" fill="#848484" stroke="none" stroke-width="0.00"/>
<circle cx="843.00" cy="834.94" r="3.30" fill="#848484" stroke="none" stroke-width="0.00"/>
<circle cx="843.00" cy="842.90" r="3.30" fill="#848484" stroke="none" stroke-width="0.00"/>
<line x1="843.00" y1="902.60" x2="843.00" y2="909.80" stroke="#111" stroke-width="1.60"/>
<line x1="896.40" y1="818.62" x2="896.40" y2="809.71" stroke="#6b6b6b" stroke-width="1.60"/>
<line x1="889.00" y1="809.71" x2="903.80" y2="809.71" stroke="#6b6b6b" stroke-width="1.60"/>
<rect x="881.40" y="818.62" width="30.00" height="83.98" fill="#a09fa6" stroke="#111" stroke-width="1.80"/>
<circle cx="896.40" cy="806.28" r="3.30" fill="#6b6b6b" stroke="none" stroke-width="0.00"/>
<circle cx="896.40" cy="813.45" r="3.30" fill="#6b6b6b" stroke="none" stroke-width="0.00"/>
<circle cx="896.40" cy="833.35" r="3.30" fill="#6b6b6b" stroke="none" stroke-width="0.00"/>
<line x1="896.40" y1="902.60" x2="896.40" y2="909.80" stroke="#111" stroke-width="1.60"/>
<line x1="949.60" y1="805.33" x2="949.60" y2="795.62" stroke="#2f2f2f" stroke-width="1.60"/>
<line x1="942.20" y1="795.62" x2="957.00" y2="795.62" stroke="#2f2f2f" stroke-width="1.60"/>
<rect x="934.60" y="805.33" width="30.00" height="97.27" fill="#5b5b5b" stroke="#111" stroke-width="1.80"/>
<circle cx="949.60" cy="786.38" r="3.30" fill="#2f2f2f" stroke="none" stroke-width="0.00"/>
<circle cx="949.60" cy="813.45" r="3.30" fill="#2f2f2f" stroke="none" stroke-width="0.00"/>
<circle cx="949.60" cy="815.84" r="3.30" fill="#2f2f2f" stroke="none" stroke-width="0.00"/>
<line x1="949.60" y1="902.60" x2="949.60" y2="909.80" stroke="#111" stroke-width="1.60"/>
<line x1="763.40" y1="742.70" x2="763.40" y2="903.40" stroke="#111" stroke-width="1.60"/>
<line x1="762.60" y1="902.60" x2="976.40" y2="902.60" stroke="#111" stroke-width="1.60"/>
<line x1="755.90" y1="902.60" x2="763.40" y2="902.60" stroke="#111" stroke-width="1.60"/>
<text x="743.89" y="908.70" style="font-size:17.00px;" fill="#000">0</text>
<line x1="755.90" y1="862.80" x2="763.40" y2="862.80" stroke="#111" stroke-width="1.60"/>
<text x="734.44" y="868.90" style="font-size:17.00px;" fill="#000">50</text>
<line x1="755.90" y1="823.00" x2="763.40" y2="823.00" stroke="#111" stroke-width="1.60"/>
<text x="724.99" y="829.10" style="font-size:17.00px;" fill="#000">100</text>
<line x1="755.90" y1="783.20" x2="763.40" y2="783.20" stroke="#111" stroke-width="1.60"/>
<text x="724.99" y="789.30" style="font-size:17.00px;" fill="#000">150</text>
<line x1="755.90" y1="743.40" x2="763.40" y2="743.40" stroke="#111" stroke-width="1.60"/>
<text x="724.99" y="749.50" style="font-size:17.00px;" fill="#000">200</text>
<text x="776.74" y="928.10" style="font-size:17.00px;" fill="#000">WT</text>
<text x="815.94" y="928.10" style="font-size:17.00px;" fill="#000">Vehicle</text>
<text x="872.49" y="928.10" style="font-size:17.00px;" fill="#000">LMED</text>
<text x="924.28" y="928.10" style="font-size:17.00px;" fill="#000">HMED</text>
<line x1="822.60" y1="936.90" x2="955.60" y2="936.90" stroke="#111" stroke-width="1.60"/>
<text x="867.13" y="956.20" style="font-size:17.00px" fill="#000"><tspan style="font-style:italic">Lep</tspan><tspan> KO</tspan></text>
<text x="839.58" y="802.69" style="font-size:17.50px;font-weight:bold;" fill="#000">*</text>
<text x="892.98" y="797.09" style="font-size:17.50px;font-weight:bold;" fill="#000">*</text>
<text x="946.18" y="775.89" style="font-size:17.50px;font-weight:bold;" fill="#000">*</text>
<text transform="translate(711.96 882.90) rotate(-90)" x="0" y="0" style="font-size:20.50px;" fill="#000">HDL (mg/dL)</text>
<line x1="1127.20" y1="811.64" x2="1127.20" y2="808.88" stroke="#cfcfcf" stroke-width="1.60"/>
<line x1="1119.80" y1="808.88" x2="1134.60" y2="808.88" stroke="#cfcfcf" stroke-width="1.60"/>
<rect x="1112.20" y="811.64" width="30.00" height="90.96" fill="#ffffff" stroke="#111" stroke-width="1.80"/>
<circle cx="1127.20" cy="808.14" r="3.30" fill="#cfcfcf" stroke="none" stroke-width="0.00"/>
<circle cx="1127.20" cy="811.33" r="3.30" fill="#cfcfcf" stroke="none" stroke-width="0.00"/>
<circle cx="1127.20" cy="815.57" r="3.30" fill="#cfcfcf" stroke="none" stroke-width="0.00"/>
<line x1="1127.20" y1="902.60" x2="1127.20" y2="909.80" stroke="#111" stroke-width="1.60"/>
<line x1="1180.40" y1="795.09" x2="1180.40" y2="778.53" stroke="#848484" stroke-width="1.60"/>
<line x1="1173.00" y1="778.53" x2="1187.80" y2="778.53" stroke="#848484" stroke-width="1.60"/>
<rect x="1165.40" y="795.09" width="30.00" height="107.51" fill="#d4d4d4" stroke="#111" stroke-width="1.80"/>
<circle cx="1180.40" cy="762.50" r="3.30" fill="#848484" stroke="none" stroke-width="0.00"/>
<circle cx="1180.40" cy="802.83" r="3.30" fill="#848484" stroke="none" stroke-width="0.00"/>
<circle cx="1180.40" cy="817.69" r="3.30" fill="#848484" stroke="none" stroke-width="0.00"/>
<line x1="1180.40" y1="902.60" x2="1180.40" y2="909.80" stroke="#111" stroke-width="1.60"/>
<line x1="1233.80" y1="798.48" x2="1233.80" y2="779.91" stroke="#6b6b6b" stroke-width="1.60"/>
<line x1="1226.40" y1="779.91" x2="1241.20" y2="779.91" stroke="#6b6b6b" stroke-width="1.60"/>
<rect x="1218.80" y="798.48" width="30.00" height="104.12" fill="#a09fa6" stroke="#111" stroke-width="1.80"/>
<circle cx="1233.80" cy="766.22" r="3.30" fill="#6b6b6b" stroke="none" stroke-width="0.00"/>
<circle cx="1233.80" cy="798.59" r="3.30" fill="#6b6b6b" stroke="none" stroke-width="0.00"/>
<circle cx="1233.80" cy="828.31" r="3.30" fill="#6b6b6b" stroke="none" stroke-width="0.00"/>
<line x1="1233.80" y1="902.60" x2="1233.80" y2="909.80" stroke="#111" stroke-width="1.60"/>
<line x1="1287.00" y1="816.31" x2="1287.00" y2="811.22" stroke="#2f2f2f" stroke-width="1.60"/>
<line x1="1279.60" y1="811.22" x2="1294.40" y2="811.22" stroke="#2f2f2f" stroke-width="1.60"/>
<rect x="1272.00" y="816.31" width="30.00" height="86.29" fill="#5b5b5b" stroke="#111" stroke-width="1.80"/>
<circle cx="1287.00" cy="808.14" r="3.30" fill="#2f2f2f" stroke="none" stroke-width="0.00"/>
<circle cx="1287.00" cy="815.57" r="3.30" fill="#2f2f2f" stroke="none" stroke-width="0.00"/>
<circle cx="1287.00" cy="822.47" r="3.30" fill="#2f2f2f" stroke="none" stroke-width="0.00"/>
<line x1="1287.00" y1="902.60" x2="1287.00" y2="909.80" stroke="#111" stroke-width="1.60"/>
<line x1="1100.80" y1="742.70" x2="1100.80" y2="903.40" stroke="#111" stroke-width="1.60"/>
<line x1="1100.00" y1="902.60" x2="1313.80" y2="902.60" stroke="#111" stroke-width="1.60"/>
<line x1="1093.30" y1="902.60" x2="1100.80" y2="902.60" stroke="#111" stroke-width="1.60"/>
<text x="1081.29" y="908.70" style="font-size:17.00px;" fill="#000">0</text>
<line x1="1093.30" y1="849.53" x2="1100.80" y2="849.53" stroke="#111" stroke-width="1.60"/>
<text x="1081.34" y="855.63" style="font-size:17.00px;" fill="#000">5</text>
<line x1="1093.30" y1="796.47" x2="1100.80" y2="796.47" stroke="#111" stroke-width="1.60"/>
<text x="1071.84" y="802.57" style="font-size:17.00px;" fill="#000">10</text>
<line x1="1093.30" y1="743.40" x2="1100.80" y2="743.40" stroke="#111" stroke-width="1.60"/>
<text x="1071.89" y="749.50" style="font-size:17.00px;" fill="#000">15</text>
<text x="1114.14" y="928.10" style="font-size:17.00px;" fill="#000">WT</text>
<text x="1153.34" y="928.10" style="font-size:17.00px;" fill="#000">Vehicle</text>
<text x="1209.89" y="928.10" style="font-size:17.00px;" fill="#000">LMED</text>
<text x="1261.68" y="928.10" style="font-size:17.00px;" fill="#000">HMED</text>
<line x1="1160.00" y1="936.90" x2="1293.00" y2="936.90" stroke="#111" stroke-width="1.60"/>
<text x="1204.53" y="956.20" style="font-size:17.00px" fill="#000"><tspan style="font-style:italic">Lep</tspan><tspan> KO</tspan></text>
<text transform="translate(1058.86 878.00) rotate(-90)" x="0" y="0" style="font-size:20.50px;" fill="#000">LDL (mg/dL)</text>
</svg>
</body></html>
